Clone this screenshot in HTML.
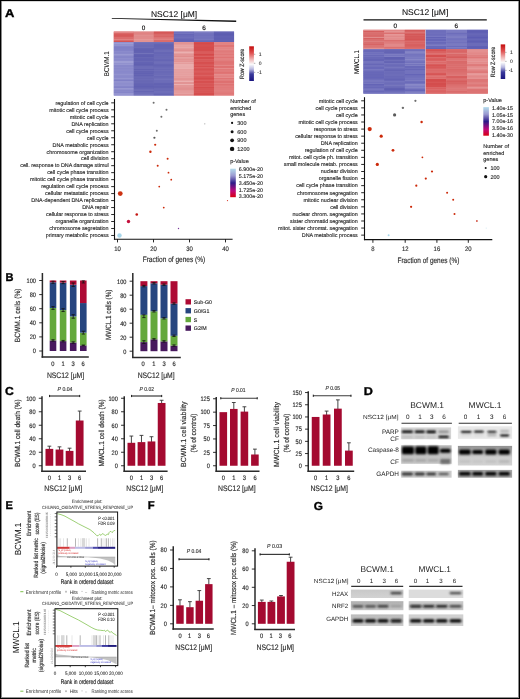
<!DOCTYPE html><html><head><meta charset="utf-8"><style>html,body{margin:0;padding:0;background:#fff;}svg{display:block;filter:blur(0.3px);}text{font-family:"Liberation Sans", sans-serif;text-rendering:geometricPrecision;}</style></head><body>
<svg width="520" height="699" viewBox="0 0 520 699">
<defs><linearGradient id="zs" x1="0" y1="0" x2="0" y2="1"><stop offset="0" stop-color="#c40c0c"/><stop offset="0.2" stop-color="#e05454"/><stop offset="0.38" stop-color="#f0b8b8"/><stop offset="0.52" stop-color="#fbfbfb"/><stop offset="0.66" stop-color="#b8b8e0"/><stop offset="0.8" stop-color="#3a3a9c"/><stop offset="1" stop-color="#1a1580"/></linearGradient><linearGradient id="pv" x1="0" y1="0" x2="0" y2="1"><stop offset="0" stop-color="#b4dcec"/><stop offset="0.25" stop-color="#9a98d0"/><stop offset="0.5" stop-color="#2c1a88"/><stop offset="0.78" stop-color="#c0087a"/><stop offset="1" stop-color="#d80010"/></linearGradient><linearGradient id="gs" x1="0" y1="0" x2="1" y2="0"><stop offset="0" stop-color="#d23a3a"/><stop offset="0.2" stop-color="#d86a6a"/><stop offset="0.3" stop-color="#e4b8cc"/><stop offset="0.55" stop-color="#b8b8e0"/><stop offset="0.72" stop-color="#5a5ab4"/><stop offset="1" stop-color="#1e1e7a"/></linearGradient><filter id="bl" x="-20%" y="-150%" width="140%" height="400%"><feGaussianBlur stdDeviation="0.8"/></filter><filter id="bl2" x="-20%" y="-100%" width="140%" height="300%"><feGaussianBlur stdDeviation="1.1"/></filter></defs>
<rect x="0" y="0" width="520" height="699" fill="#fff"/>
<text x="4.95" y="16.70" font-size="11.4" font-weight="bold" fill="#000" stroke="#000" stroke-width="0.35" textLength="9.40" lengthAdjust="spacingAndGlyphs">A</text>
<rect x="113.80" y="31.60" width="20.08" height="10.60" fill="#d24c4c" />
<rect x="113.80" y="31.60" width="20.08" height="1.50" fill="#e38686" />
<rect x="113.80" y="33.10" width="20.08" height="1.50" fill="#db6a6a" />
<rect x="113.80" y="34.60" width="20.08" height="2.00" fill="#d65959" />
<rect x="113.80" y="36.60" width="20.08" height="2.00" fill="#db6c6c" />
<rect x="113.80" y="38.60" width="20.08" height="2.00" fill="#e18181" />
<rect x="113.80" y="40.60" width="20.08" height="0.80" fill="#db6a6a" />
<rect x="113.80" y="41.40" width="20.08" height="0.80" fill="#d45252" />
<rect x="113.80" y="42.20" width="20.08" height="53.30" fill="#8080c6" />
<rect x="113.80" y="42.20" width="20.08" height="0.80" fill="#9191cf" />
<rect x="113.80" y="43.00" width="20.08" height="1.50" fill="#9c9cd4" />
<rect x="113.80" y="44.50" width="20.08" height="2.00" fill="#9393cf" />
<rect x="113.80" y="46.50" width="20.08" height="2.00" fill="#8080c6" />
<rect x="113.80" y="48.50" width="20.08" height="2.00" fill="#8282c7" />
<rect x="113.80" y="50.50" width="20.08" height="0.80" fill="#8585c9" />
<rect x="113.80" y="51.30" width="20.08" height="1.00" fill="#9191cf" />
<rect x="113.80" y="52.30" width="20.08" height="1.50" fill="#8989cb" />
<rect x="113.80" y="53.80" width="20.08" height="2.00" fill="#9898d2" />
<rect x="113.80" y="55.80" width="20.08" height="2.00" fill="#8787c9" />
<rect x="113.80" y="57.80" width="20.08" height="1.20" fill="#8e8ecd" />
<rect x="113.80" y="59.00" width="20.08" height="0.80" fill="#8d8dcd" />
<rect x="113.80" y="59.80" width="20.08" height="1.20" fill="#8c8ccc" />
<rect x="113.80" y="61.00" width="20.08" height="2.00" fill="#9d9dd4" />
<rect x="113.80" y="63.00" width="20.08" height="0.80" fill="#9494d0" />
<rect x="113.80" y="63.80" width="20.08" height="1.20" fill="#9696d1" />
<rect x="113.80" y="65.00" width="20.08" height="2.00" fill="#8888ca" />
<rect x="113.80" y="67.00" width="20.08" height="0.80" fill="#9090ce" />
<rect x="113.80" y="67.80" width="20.08" height="0.80" fill="#8c8ccc" />
<rect x="113.80" y="68.60" width="20.08" height="1.20" fill="#8b8bcc" />
<rect x="113.80" y="69.80" width="20.08" height="0.80" fill="#9898d2" />
<rect x="113.80" y="70.60" width="20.08" height="0.80" fill="#8686c9" />
<rect x="113.80" y="71.40" width="20.08" height="0.80" fill="#8e8ecd" />
<rect x="113.80" y="72.20" width="20.08" height="1.50" fill="#8c8ccc" />
<rect x="113.80" y="73.70" width="20.08" height="2.00" fill="#9292cf" />
<rect x="113.80" y="75.70" width="20.08" height="1.20" fill="#8a8acb" />
<rect x="113.80" y="76.90" width="20.08" height="1.20" fill="#8a8acb" />
<rect x="113.80" y="78.10" width="20.08" height="1.50" fill="#9696d1" />
<rect x="113.80" y="79.60" width="20.08" height="0.80" fill="#8484c8" />
<rect x="113.80" y="80.40" width="20.08" height="0.80" fill="#8080c6" />
<rect x="113.80" y="81.20" width="20.08" height="1.50" fill="#9797d1" />
<rect x="113.80" y="82.70" width="20.08" height="1.00" fill="#9494d0" />
<rect x="113.80" y="83.70" width="20.08" height="1.00" fill="#8d8dcc" />
<rect x="113.80" y="84.70" width="20.08" height="1.00" fill="#9c9cd4" />
<rect x="113.80" y="85.70" width="20.08" height="1.00" fill="#8c8ccc" />
<rect x="113.80" y="86.70" width="20.08" height="1.50" fill="#8383c8" />
<rect x="113.80" y="88.20" width="20.08" height="1.50" fill="#9d9dd4" />
<rect x="113.80" y="89.70" width="20.08" height="0.80" fill="#8888ca" />
<rect x="113.80" y="90.50" width="20.08" height="2.00" fill="#8989ca" />
<rect x="113.80" y="92.50" width="20.08" height="0.80" fill="#8686c9" />
<rect x="113.80" y="93.30" width="20.08" height="1.50" fill="#9d9dd4" />
<rect x="113.80" y="94.80" width="20.08" height="0.70" fill="#9292cf" />
<rect x="133.83" y="31.60" width="20.08" height="10.60" fill="#df8282" />
<rect x="133.83" y="31.60" width="20.08" height="0.80" fill="#df8383" />
<rect x="133.83" y="32.40" width="20.08" height="1.00" fill="#e18a8a" />
<rect x="133.83" y="33.40" width="20.08" height="1.20" fill="#df8282" />
<rect x="133.83" y="34.60" width="20.08" height="2.00" fill="#e28e8e" />
<rect x="133.83" y="36.60" width="20.08" height="1.20" fill="#e29090" />
<rect x="133.83" y="37.80" width="20.08" height="0.80" fill="#e08585" />
<rect x="133.83" y="38.60" width="20.08" height="2.00" fill="#e59898" />
<rect x="133.83" y="40.60" width="20.08" height="0.80" fill="#e49797" />
<rect x="133.83" y="41.40" width="20.08" height="0.80" fill="#e49898" />
<rect x="133.83" y="42.20" width="20.08" height="53.30" fill="#5e5eb0" />
<rect x="133.83" y="42.20" width="20.08" height="1.00" fill="#7373bb" />
<rect x="133.83" y="43.20" width="20.08" height="1.50" fill="#7171b9" />
<rect x="133.83" y="44.70" width="20.08" height="1.00" fill="#7171ba" />
<rect x="133.83" y="45.70" width="20.08" height="1.00" fill="#6c6cb7" />
<rect x="133.83" y="46.70" width="20.08" height="1.20" fill="#7272ba" />
<rect x="133.83" y="47.90" width="20.08" height="2.00" fill="#6464b3" />
<rect x="133.83" y="49.90" width="20.08" height="1.00" fill="#6262b2" />
<rect x="133.83" y="50.90" width="20.08" height="2.00" fill="#6262b2" />
<rect x="133.83" y="52.90" width="20.08" height="1.50" fill="#7272ba" />
<rect x="133.83" y="54.40" width="20.08" height="2.00" fill="#6060b1" />
<rect x="133.83" y="56.40" width="20.08" height="0.80" fill="#6060b1" />
<rect x="133.83" y="57.20" width="20.08" height="0.80" fill="#6969b6" />
<rect x="133.83" y="58.00" width="20.08" height="1.20" fill="#6363b3" />
<rect x="133.83" y="59.20" width="20.08" height="1.50" fill="#6464b3" />
<rect x="133.83" y="60.70" width="20.08" height="2.00" fill="#6969b5" />
<rect x="133.83" y="62.70" width="20.08" height="2.00" fill="#6262b2" />
<rect x="133.83" y="64.70" width="20.08" height="0.80" fill="#6161b1" />
<rect x="133.83" y="65.50" width="20.08" height="1.50" fill="#6b6bb6" />
<rect x="133.83" y="67.00" width="20.08" height="2.00" fill="#6c6cb7" />
<rect x="133.83" y="69.00" width="20.08" height="1.20" fill="#6363b2" />
<rect x="133.83" y="70.20" width="20.08" height="1.00" fill="#6f6fb8" />
<rect x="133.83" y="71.20" width="20.08" height="0.80" fill="#6464b3" />
<rect x="133.83" y="72.00" width="20.08" height="1.50" fill="#6464b3" />
<rect x="133.83" y="73.50" width="20.08" height="0.80" fill="#6262b2" />
<rect x="133.83" y="74.30" width="20.08" height="1.20" fill="#6a6ab6" />
<rect x="133.83" y="75.50" width="20.08" height="1.00" fill="#6060b1" />
<rect x="133.83" y="76.50" width="20.08" height="1.00" fill="#7272ba" />
<rect x="133.83" y="77.50" width="20.08" height="1.20" fill="#6d6db7" />
<rect x="133.83" y="78.70" width="20.08" height="2.00" fill="#6b6bb7" />
<rect x="133.83" y="80.70" width="20.08" height="1.00" fill="#6b6bb7" />
<rect x="133.83" y="81.70" width="20.08" height="0.80" fill="#6969b5" />
<rect x="133.83" y="82.50" width="20.08" height="1.20" fill="#6e6eb8" />
<rect x="133.83" y="83.70" width="20.08" height="0.80" fill="#5e5eb0" />
<rect x="133.83" y="84.50" width="20.08" height="0.80" fill="#6969b5" />
<rect x="133.83" y="85.30" width="20.08" height="1.20" fill="#6565b4" />
<rect x="133.83" y="86.50" width="20.08" height="0.80" fill="#6060b1" />
<rect x="133.83" y="87.30" width="20.08" height="2.00" fill="#6666b4" />
<rect x="133.83" y="89.30" width="20.08" height="0.80" fill="#7272ba" />
<rect x="133.83" y="90.10" width="20.08" height="1.00" fill="#7070b9" />
<rect x="133.83" y="91.10" width="20.08" height="1.20" fill="#6666b4" />
<rect x="133.83" y="92.30" width="20.08" height="1.50" fill="#7272ba" />
<rect x="133.83" y="93.80" width="20.08" height="1.50" fill="#7373bb" />
<rect x="133.83" y="95.30" width="20.08" height="0.20" fill="#7171ba" />
<rect x="153.87" y="31.60" width="20.08" height="10.60" fill="#d45656" />
<rect x="153.87" y="31.60" width="20.08" height="2.00" fill="#d45757" />
<rect x="153.87" y="33.60" width="20.08" height="1.50" fill="#d96868" />
<rect x="153.87" y="35.10" width="20.08" height="0.80" fill="#dd7373" />
<rect x="153.87" y="35.90" width="20.08" height="0.80" fill="#d55a5a" />
<rect x="153.87" y="36.70" width="20.08" height="0.80" fill="#e28585" />
<rect x="153.87" y="37.50" width="20.08" height="1.50" fill="#de7979" />
<rect x="153.87" y="39.00" width="20.08" height="1.50" fill="#e18282" />
<rect x="153.87" y="40.50" width="20.08" height="1.70" fill="#da6c6c" />
<rect x="153.87" y="42.20" width="20.08" height="53.30" fill="#6262b2" />
<rect x="153.87" y="42.20" width="20.08" height="1.50" fill="#7171ba" />
<rect x="153.87" y="43.70" width="20.08" height="0.80" fill="#6b6bb7" />
<rect x="153.87" y="44.50" width="20.08" height="2.00" fill="#6363b2" />
<rect x="153.87" y="46.50" width="20.08" height="2.00" fill="#6464b3" />
<rect x="153.87" y="48.50" width="20.08" height="0.80" fill="#6666b4" />
<rect x="153.87" y="49.30" width="20.08" height="0.80" fill="#6b6bb7" />
<rect x="153.87" y="50.10" width="20.08" height="2.00" fill="#6e6eb8" />
<rect x="153.87" y="52.10" width="20.08" height="1.50" fill="#6767b5" />
<rect x="153.87" y="53.60" width="20.08" height="0.80" fill="#6969b6" />
<rect x="153.87" y="54.40" width="20.08" height="1.00" fill="#6e6eb9" />
<rect x="153.87" y="55.40" width="20.08" height="1.00" fill="#6b6bb7" />
<rect x="153.87" y="56.40" width="20.08" height="1.20" fill="#6e6eb8" />
<rect x="153.87" y="57.60" width="20.08" height="1.50" fill="#6b6bb7" />
<rect x="153.87" y="59.10" width="20.08" height="1.00" fill="#6868b5" />
<rect x="153.87" y="60.10" width="20.08" height="1.20" fill="#6666b4" />
<rect x="153.87" y="61.30" width="20.08" height="1.50" fill="#7171ba" />
<rect x="153.87" y="62.80" width="20.08" height="1.00" fill="#7272bb" />
<rect x="153.87" y="63.80" width="20.08" height="1.50" fill="#6666b4" />
<rect x="153.87" y="65.30" width="20.08" height="1.20" fill="#6666b4" />
<rect x="153.87" y="66.50" width="20.08" height="1.00" fill="#6b6bb7" />
<rect x="153.87" y="67.50" width="20.08" height="0.80" fill="#6f6fb9" />
<rect x="153.87" y="68.30" width="20.08" height="1.20" fill="#7171ba" />
<rect x="153.87" y="69.50" width="20.08" height="0.80" fill="#6a6ab6" />
<rect x="153.87" y="70.30" width="20.08" height="1.20" fill="#7373bb" />
<rect x="153.87" y="71.50" width="20.08" height="1.50" fill="#6969b6" />
<rect x="153.87" y="73.00" width="20.08" height="2.00" fill="#6b6bb7" />
<rect x="153.87" y="75.00" width="20.08" height="1.20" fill="#6f6fb9" />
<rect x="153.87" y="76.20" width="20.08" height="2.00" fill="#6a6ab6" />
<rect x="153.87" y="78.20" width="20.08" height="0.80" fill="#7171ba" />
<rect x="153.87" y="79.00" width="20.08" height="1.20" fill="#7272bb" />
<rect x="153.87" y="80.20" width="20.08" height="0.80" fill="#6e6eb9" />
<rect x="153.87" y="81.00" width="20.08" height="1.20" fill="#6c6cb8" />
<rect x="153.87" y="82.20" width="20.08" height="1.20" fill="#6e6eb8" />
<rect x="153.87" y="83.40" width="20.08" height="2.00" fill="#6262b2" />
<rect x="153.87" y="85.40" width="20.08" height="1.00" fill="#6969b6" />
<rect x="153.87" y="86.40" width="20.08" height="1.00" fill="#6262b2" />
<rect x="153.87" y="87.40" width="20.08" height="1.20" fill="#6666b4" />
<rect x="153.87" y="88.60" width="20.08" height="1.00" fill="#7171ba" />
<rect x="153.87" y="89.60" width="20.08" height="0.80" fill="#6a6ab6" />
<rect x="153.87" y="90.40" width="20.08" height="2.00" fill="#6e6eb8" />
<rect x="153.87" y="92.40" width="20.08" height="1.20" fill="#7373bb" />
<rect x="153.87" y="93.60" width="20.08" height="1.00" fill="#6666b4" />
<rect x="153.87" y="94.60" width="20.08" height="0.90" fill="#6767b5" />
<rect x="173.90" y="31.60" width="20.08" height="10.60" fill="#6060b4" />
<rect x="173.90" y="31.60" width="20.08" height="0.80" fill="#7575bf" />
<rect x="173.90" y="32.40" width="20.08" height="2.00" fill="#7474be" />
<rect x="173.90" y="34.40" width="20.08" height="1.00" fill="#6666b7" />
<rect x="173.90" y="35.40" width="20.08" height="1.20" fill="#6f6fbc" />
<rect x="173.90" y="36.60" width="20.08" height="2.00" fill="#6e6ebb" />
<rect x="173.90" y="38.60" width="20.08" height="1.00" fill="#6b6bba" />
<rect x="173.90" y="39.60" width="20.08" height="1.00" fill="#6262b5" />
<rect x="173.90" y="40.60" width="20.08" height="1.50" fill="#6464b6" />
<rect x="173.90" y="42.20" width="20.08" height="53.30" fill="#e08c8c" />
<rect x="173.90" y="42.20" width="20.08" height="1.50" fill="#e29393" />
<rect x="173.90" y="43.70" width="20.08" height="0.80" fill="#e49a9a" />
<rect x="173.90" y="44.50" width="20.08" height="2.00" fill="#e7a4a4" />
<rect x="173.90" y="46.50" width="20.08" height="2.00" fill="#e9a9a9" />
<rect x="173.90" y="48.50" width="20.08" height="1.20" fill="#e59d9d" />
<rect x="173.90" y="49.70" width="20.08" height="1.00" fill="#e19090" />
<rect x="173.90" y="50.70" width="20.08" height="0.80" fill="#e29494" />
<rect x="173.90" y="51.50" width="20.08" height="1.50" fill="#ebb0b0" />
<rect x="173.90" y="53.00" width="20.08" height="1.20" fill="#e6a0a0" />
<rect x="173.90" y="54.20" width="20.08" height="1.20" fill="#e39696" />
<rect x="173.90" y="55.40" width="20.08" height="0.80" fill="#e49999" />
<rect x="173.90" y="56.20" width="20.08" height="0.80" fill="#e08d8d" />
<rect x="173.90" y="57.00" width="20.08" height="1.20" fill="#e6a0a0" />
<rect x="173.90" y="58.20" width="20.08" height="1.20" fill="#e59e9e" />
<rect x="173.90" y="59.40" width="20.08" height="0.80" fill="#e29494" />
<rect x="173.90" y="60.20" width="20.08" height="0.80" fill="#e59c9c" />
<rect x="173.90" y="61.00" width="20.08" height="0.80" fill="#e29292" />
<rect x="173.90" y="61.80" width="20.08" height="1.20" fill="#e8a5a5" />
<rect x="173.90" y="63.00" width="20.08" height="1.00" fill="#e59d9d" />
<rect x="173.90" y="64.00" width="20.08" height="2.00" fill="#eaadad" />
<rect x="173.90" y="66.00" width="20.08" height="2.00" fill="#e9abab" />
<rect x="173.90" y="68.00" width="20.08" height="1.50" fill="#ebaeae" />
<rect x="173.90" y="69.50" width="20.08" height="1.50" fill="#e6a1a1" />
<rect x="173.90" y="71.00" width="20.08" height="0.80" fill="#e8a8a8" />
<rect x="173.90" y="71.80" width="20.08" height="1.50" fill="#e69f9f" />
<rect x="173.90" y="73.30" width="20.08" height="1.20" fill="#e9aaaa" />
<rect x="173.90" y="74.50" width="20.08" height="2.00" fill="#e7a3a3" />
<rect x="173.90" y="76.50" width="20.08" height="2.00" fill="#e69f9f" />
<rect x="173.90" y="78.50" width="20.08" height="2.00" fill="#e39595" />
<rect x="173.90" y="80.50" width="20.08" height="1.50" fill="#ebafaf" />
<rect x="173.90" y="82.00" width="20.08" height="2.00" fill="#e29494" />
<rect x="173.90" y="84.00" width="20.08" height="1.00" fill="#ebafaf" />
<rect x="173.90" y="85.00" width="20.08" height="2.00" fill="#e39696" />
<rect x="173.90" y="87.00" width="20.08" height="1.50" fill="#e29393" />
<rect x="173.90" y="88.50" width="20.08" height="2.00" fill="#e19090" />
<rect x="173.90" y="90.50" width="20.08" height="0.80" fill="#e7a2a2" />
<rect x="173.90" y="91.30" width="20.08" height="0.80" fill="#e6a0a0" />
<rect x="173.90" y="92.10" width="20.08" height="0.80" fill="#e69f9f" />
<rect x="173.90" y="92.90" width="20.08" height="1.50" fill="#e6a0a0" />
<rect x="173.90" y="94.40" width="20.08" height="1.10" fill="#e19090" />
<rect x="193.93" y="31.60" width="20.08" height="10.60" fill="#6868b8" />
<rect x="193.93" y="31.60" width="20.08" height="0.80" fill="#7d7dc2" />
<rect x="193.93" y="32.40" width="20.08" height="0.80" fill="#8585c5" />
<rect x="193.93" y="33.20" width="20.08" height="1.50" fill="#7575be" />
<rect x="193.93" y="34.70" width="20.08" height="1.50" fill="#7070bc" />
<rect x="193.93" y="36.20" width="20.08" height="1.50" fill="#7777bf" />
<rect x="193.93" y="37.70" width="20.08" height="1.20" fill="#7575be" />
<rect x="193.93" y="38.90" width="20.08" height="1.50" fill="#7878bf" />
<rect x="193.93" y="40.40" width="20.08" height="0.80" fill="#6e6ebb" />
<rect x="193.93" y="41.20" width="20.08" height="1.00" fill="#6969b8" />
<rect x="193.93" y="42.20" width="20.08" height="53.30" fill="#d44a4a" />
<rect x="193.93" y="42.20" width="20.08" height="1.20" fill="#d54d4d" />
<rect x="193.93" y="43.40" width="20.08" height="0.80" fill="#d44b4b" />
<rect x="193.93" y="44.20" width="20.08" height="1.00" fill="#d65050" />
<rect x="193.93" y="45.20" width="20.08" height="1.20" fill="#d75353" />
<rect x="193.93" y="46.40" width="20.08" height="1.20" fill="#d65151" />
<rect x="193.93" y="47.60" width="20.08" height="1.50" fill="#d54d4d" />
<rect x="193.93" y="49.10" width="20.08" height="2.00" fill="#d54d4d" />
<rect x="193.93" y="51.10" width="20.08" height="2.00" fill="#d95b5b" />
<rect x="193.93" y="53.10" width="20.08" height="1.00" fill="#da5d5d" />
<rect x="193.93" y="54.10" width="20.08" height="1.50" fill="#d44b4b" />
<rect x="193.93" y="55.60" width="20.08" height="1.50" fill="#db6060" />
<rect x="193.93" y="57.10" width="20.08" height="2.00" fill="#d54e4e" />
<rect x="193.93" y="59.10" width="20.08" height="1.00" fill="#db6161" />
<rect x="193.93" y="60.10" width="20.08" height="2.00" fill="#d95b5b" />
<rect x="193.93" y="62.10" width="20.08" height="2.00" fill="#d65050" />
<rect x="193.93" y="64.10" width="20.08" height="2.00" fill="#d95a5a" />
<rect x="193.93" y="66.10" width="20.08" height="1.00" fill="#d65050" />
<rect x="193.93" y="67.10" width="20.08" height="1.20" fill="#dc6262" />
<rect x="193.93" y="68.30" width="20.08" height="1.20" fill="#d95a5a" />
<rect x="193.93" y="69.50" width="20.08" height="1.00" fill="#d65050" />
<rect x="193.93" y="70.50" width="20.08" height="1.00" fill="#db6262" />
<rect x="193.93" y="71.50" width="20.08" height="1.00" fill="#db6262" />
<rect x="193.93" y="72.50" width="20.08" height="1.00" fill="#da5d5d" />
<rect x="193.93" y="73.50" width="20.08" height="1.20" fill="#d75454" />
<rect x="193.93" y="74.70" width="20.08" height="1.50" fill="#db6060" />
<rect x="193.93" y="76.20" width="20.08" height="1.50" fill="#d95858" />
<rect x="193.93" y="77.70" width="20.08" height="1.00" fill="#d64f4f" />
<rect x="193.93" y="78.70" width="20.08" height="0.80" fill="#d54d4d" />
<rect x="193.93" y="79.50" width="20.08" height="2.00" fill="#da5c5c" />
<rect x="193.93" y="81.50" width="20.08" height="1.20" fill="#d54d4d" />
<rect x="193.93" y="82.70" width="20.08" height="2.00" fill="#d95b5b" />
<rect x="193.93" y="84.70" width="20.08" height="1.20" fill="#d85757" />
<rect x="193.93" y="85.90" width="20.08" height="1.00" fill="#db5f5f" />
<rect x="193.93" y="86.90" width="20.08" height="1.50" fill="#d54d4d" />
<rect x="193.93" y="88.40" width="20.08" height="0.80" fill="#da5e5e" />
<rect x="193.93" y="89.20" width="20.08" height="2.00" fill="#d85858" />
<rect x="193.93" y="91.20" width="20.08" height="2.00" fill="#d85757" />
<rect x="193.93" y="93.20" width="20.08" height="1.00" fill="#d64f4f" />
<rect x="193.93" y="94.20" width="20.08" height="1.00" fill="#d54f4f" />
<rect x="193.93" y="95.20" width="20.08" height="0.30" fill="#dc6464" />
<rect x="213.97" y="31.60" width="20.08" height="10.60" fill="#5c5cb0" />
<rect x="213.97" y="31.60" width="20.08" height="0.80" fill="#6363b4" />
<rect x="213.97" y="32.40" width="20.08" height="1.00" fill="#6767b7" />
<rect x="213.97" y="33.40" width="20.08" height="1.50" fill="#5d5db1" />
<rect x="213.97" y="34.90" width="20.08" height="0.80" fill="#6060b2" />
<rect x="213.97" y="35.70" width="20.08" height="1.50" fill="#6161b3" />
<rect x="213.97" y="37.20" width="20.08" height="1.20" fill="#6161b3" />
<rect x="213.97" y="38.40" width="20.08" height="2.00" fill="#6060b3" />
<rect x="213.97" y="40.40" width="20.08" height="0.80" fill="#6666b6" />
<rect x="213.97" y="41.20" width="20.08" height="1.00" fill="#6161b3" />
<rect x="213.97" y="42.20" width="20.08" height="53.30" fill="#de7070" />
<rect x="213.97" y="42.20" width="20.08" height="1.20" fill="#e38585" />
<rect x="213.97" y="43.40" width="20.08" height="1.50" fill="#e48a8a" />
<rect x="213.97" y="44.90" width="20.08" height="2.00" fill="#df7575" />
<rect x="213.97" y="46.90" width="20.08" height="2.00" fill="#e48686" />
<rect x="213.97" y="48.90" width="20.08" height="1.20" fill="#e48989" />
<rect x="213.97" y="50.10" width="20.08" height="1.50" fill="#e28080" />
<rect x="213.97" y="51.60" width="20.08" height="1.00" fill="#e27e7e" />
<rect x="213.97" y="52.60" width="20.08" height="1.20" fill="#e48787" />
<rect x="213.97" y="53.80" width="20.08" height="1.20" fill="#e07878" />
<rect x="213.97" y="55.00" width="20.08" height="0.80" fill="#e38585" />
<rect x="213.97" y="55.80" width="20.08" height="1.00" fill="#e48787" />
<rect x="213.97" y="56.80" width="20.08" height="1.50" fill="#df7474" />
<rect x="213.97" y="58.30" width="20.08" height="1.20" fill="#e48989" />
<rect x="213.97" y="59.50" width="20.08" height="1.20" fill="#e38585" />
<rect x="213.97" y="60.70" width="20.08" height="1.00" fill="#e17b7b" />
<rect x="213.97" y="61.70" width="20.08" height="1.00" fill="#de7272" />
<rect x="213.97" y="62.70" width="20.08" height="1.20" fill="#e07878" />
<rect x="213.97" y="63.90" width="20.08" height="0.80" fill="#de7070" />
<rect x="213.97" y="64.70" width="20.08" height="1.20" fill="#e58c8c" />
<rect x="213.97" y="65.90" width="20.08" height="2.00" fill="#de7171" />
<rect x="213.97" y="67.90" width="20.08" height="1.20" fill="#e58a8a" />
<rect x="213.97" y="69.10" width="20.08" height="1.20" fill="#e07979" />
<rect x="213.97" y="70.30" width="20.08" height="1.50" fill="#e28080" />
<rect x="213.97" y="71.80" width="20.08" height="2.00" fill="#df7272" />
<rect x="213.97" y="73.80" width="20.08" height="2.00" fill="#e58c8c" />
<rect x="213.97" y="75.80" width="20.08" height="1.00" fill="#e38484" />
<rect x="213.97" y="76.80" width="20.08" height="1.50" fill="#e58b8b" />
<rect x="213.97" y="78.30" width="20.08" height="0.80" fill="#df7373" />
<rect x="213.97" y="79.10" width="20.08" height="0.80" fill="#e38585" />
<rect x="213.97" y="79.90" width="20.08" height="1.20" fill="#e17c7c" />
<rect x="213.97" y="81.10" width="20.08" height="2.00" fill="#de7171" />
<rect x="213.97" y="83.10" width="20.08" height="1.00" fill="#e38282" />
<rect x="213.97" y="84.10" width="20.08" height="0.80" fill="#df7373" />
<rect x="213.97" y="84.90" width="20.08" height="1.20" fill="#e07878" />
<rect x="213.97" y="86.10" width="20.08" height="1.20" fill="#e27f7f" />
<rect x="213.97" y="87.30" width="20.08" height="2.00" fill="#e17c7c" />
<rect x="213.97" y="89.30" width="20.08" height="2.00" fill="#e28080" />
<rect x="213.97" y="91.30" width="20.08" height="0.80" fill="#e28282" />
<rect x="213.97" y="92.10" width="20.08" height="0.80" fill="#e27f7f" />
<rect x="213.97" y="92.90" width="20.08" height="0.80" fill="#e17b7b" />
<rect x="213.97" y="93.70" width="20.08" height="1.00" fill="#e17b7b" />
<rect x="213.97" y="94.70" width="20.08" height="0.80" fill="#e48888" />
<rect x="363.40" y="29.80" width="20.78" height="19.50" fill="#d45a5a" />
<rect x="363.40" y="29.80" width="20.78" height="1.20" fill="#e18c8c" />
<rect x="363.40" y="31.00" width="20.78" height="0.80" fill="#d45b5b" />
<rect x="363.40" y="31.80" width="20.78" height="1.20" fill="#da7272" />
<rect x="363.40" y="33.00" width="20.78" height="2.00" fill="#d96e6e" />
<rect x="363.40" y="35.00" width="20.78" height="1.00" fill="#d86969" />
<rect x="363.40" y="36.00" width="20.78" height="0.80" fill="#d76666" />
<rect x="363.40" y="36.80" width="20.78" height="1.50" fill="#e18c8c" />
<rect x="363.40" y="38.30" width="20.78" height="0.80" fill="#d55f5f" />
<rect x="363.40" y="39.10" width="20.78" height="1.50" fill="#da7272" />
<rect x="363.40" y="40.60" width="20.78" height="2.00" fill="#dd7d7d" />
<rect x="363.40" y="42.60" width="20.78" height="1.50" fill="#d96e6e" />
<rect x="363.40" y="44.10" width="20.78" height="0.80" fill="#d76666" />
<rect x="363.40" y="44.90" width="20.78" height="0.80" fill="#dc7b7b" />
<rect x="363.40" y="45.70" width="20.78" height="1.00" fill="#dd7d7d" />
<rect x="363.40" y="46.70" width="20.78" height="1.20" fill="#dc7a7a" />
<rect x="363.40" y="47.90" width="20.78" height="1.20" fill="#e29090" />
<rect x="363.40" y="49.10" width="20.78" height="0.20" fill="#de7f7f" />
<rect x="363.40" y="49.30" width="20.78" height="44.30" fill="#6464b6" />
<rect x="363.40" y="49.30" width="20.78" height="1.20" fill="#7272bd" />
<rect x="363.40" y="50.50" width="20.78" height="1.50" fill="#6868b8" />
<rect x="363.40" y="52.00" width="20.78" height="1.50" fill="#7373bd" />
<rect x="363.40" y="53.50" width="20.78" height="1.50" fill="#7575bf" />
<rect x="363.40" y="55.00" width="20.78" height="1.00" fill="#6969b8" />
<rect x="363.40" y="56.00" width="20.78" height="1.00" fill="#7171bd" />
<rect x="363.40" y="57.00" width="20.78" height="2.00" fill="#6969b8" />
<rect x="363.40" y="59.00" width="20.78" height="0.80" fill="#6666b7" />
<rect x="363.40" y="59.80" width="20.78" height="1.50" fill="#6565b6" />
<rect x="363.40" y="61.30" width="20.78" height="1.20" fill="#7c7cc2" />
<rect x="363.40" y="62.50" width="20.78" height="1.20" fill="#7979c0" />
<rect x="363.40" y="63.70" width="20.78" height="1.20" fill="#6767b7" />
<rect x="363.40" y="64.90" width="20.78" height="1.20" fill="#7272bd" />
<rect x="363.40" y="66.10" width="20.78" height="1.50" fill="#7272bd" />
<rect x="363.40" y="67.60" width="20.78" height="1.20" fill="#6868b8" />
<rect x="363.40" y="68.80" width="20.78" height="2.00" fill="#7878c0" />
<rect x="363.40" y="70.80" width="20.78" height="1.50" fill="#6a6ab9" />
<rect x="363.40" y="72.30" width="20.78" height="2.00" fill="#6868b8" />
<rect x="363.40" y="74.30" width="20.78" height="2.00" fill="#6767b7" />
<rect x="363.40" y="76.30" width="20.78" height="1.50" fill="#6868b8" />
<rect x="363.40" y="77.80" width="20.78" height="0.80" fill="#6565b7" />
<rect x="363.40" y="78.60" width="20.78" height="1.50" fill="#6e6ebb" />
<rect x="363.40" y="80.10" width="20.78" height="1.00" fill="#7878c0" />
<rect x="363.40" y="81.10" width="20.78" height="0.80" fill="#7d7dc2" />
<rect x="363.40" y="81.90" width="20.78" height="0.80" fill="#7272bd" />
<rect x="363.40" y="82.70" width="20.78" height="1.50" fill="#7777bf" />
<rect x="363.40" y="84.20" width="20.78" height="1.20" fill="#6464b6" />
<rect x="363.40" y="85.40" width="20.78" height="1.50" fill="#7070bc" />
<rect x="363.40" y="86.90" width="20.78" height="0.80" fill="#6666b7" />
<rect x="363.40" y="87.70" width="20.78" height="1.50" fill="#7272bd" />
<rect x="363.40" y="89.20" width="20.78" height="1.50" fill="#7c7cc2" />
<rect x="363.40" y="90.70" width="20.78" height="1.00" fill="#6666b7" />
<rect x="363.40" y="91.70" width="20.78" height="1.90" fill="#7171bd" />
<rect x="384.13" y="29.80" width="20.78" height="19.50" fill="#da6c6c" />
<rect x="384.13" y="29.80" width="20.78" height="1.00" fill="#e38d8d" />
<rect x="384.13" y="30.80" width="20.78" height="2.00" fill="#e49393" />
<rect x="384.13" y="32.80" width="20.78" height="1.20" fill="#db7171" />
<rect x="384.13" y="34.00" width="20.78" height="1.00" fill="#e69797" />
<rect x="384.13" y="35.00" width="20.78" height="1.50" fill="#e49191" />
<rect x="384.13" y="36.50" width="20.78" height="1.50" fill="#e49393" />
<rect x="384.13" y="38.00" width="20.78" height="2.00" fill="#e38d8d" />
<rect x="384.13" y="40.00" width="20.78" height="1.50" fill="#db6f6f" />
<rect x="384.13" y="41.50" width="20.78" height="1.00" fill="#e18686" />
<rect x="384.13" y="42.50" width="20.78" height="1.50" fill="#df8080" />
<rect x="384.13" y="44.00" width="20.78" height="2.00" fill="#e28989" />
<rect x="384.13" y="46.00" width="20.78" height="0.80" fill="#e59494" />
<rect x="384.13" y="46.80" width="20.78" height="0.80" fill="#da6d6d" />
<rect x="384.13" y="47.60" width="20.78" height="1.00" fill="#de7c7c" />
<rect x="384.13" y="48.60" width="20.78" height="0.70" fill="#e38f8f" />
<rect x="384.13" y="49.30" width="20.78" height="44.30" fill="#6060b2" />
<rect x="384.13" y="49.30" width="20.78" height="1.50" fill="#6868b6" />
<rect x="384.13" y="50.80" width="20.78" height="0.80" fill="#6a6ab8" />
<rect x="384.13" y="51.60" width="20.78" height="2.00" fill="#6464b4" />
<rect x="384.13" y="53.60" width="20.78" height="2.00" fill="#7d7dc2" />
<rect x="384.13" y="55.60" width="20.78" height="1.50" fill="#7e7ec3" />
<rect x="384.13" y="57.10" width="20.78" height="1.20" fill="#6060b2" />
<rect x="384.13" y="58.30" width="20.78" height="1.50" fill="#6161b2" />
<rect x="384.13" y="59.80" width="20.78" height="1.00" fill="#7777bf" />
<rect x="384.13" y="60.80" width="20.78" height="1.50" fill="#6666b5" />
<rect x="384.13" y="62.30" width="20.78" height="0.80" fill="#6565b5" />
<rect x="384.13" y="63.10" width="20.78" height="1.50" fill="#7777bf" />
<rect x="384.13" y="64.60" width="20.78" height="0.80" fill="#6d6db9" />
<rect x="384.13" y="65.40" width="20.78" height="1.20" fill="#6f6fba" />
<rect x="384.13" y="66.60" width="20.78" height="2.00" fill="#7676be" />
<rect x="384.13" y="68.60" width="20.78" height="1.00" fill="#7070bb" />
<rect x="384.13" y="69.60" width="20.78" height="1.20" fill="#6868b6" />
<rect x="384.13" y="70.80" width="20.78" height="0.80" fill="#6767b6" />
<rect x="384.13" y="71.60" width="20.78" height="0.80" fill="#7b7bc1" />
<rect x="384.13" y="72.40" width="20.78" height="1.50" fill="#6c6cb8" />
<rect x="384.13" y="73.90" width="20.78" height="0.80" fill="#7575bd" />
<rect x="384.13" y="74.70" width="20.78" height="2.00" fill="#6d6db9" />
<rect x="384.13" y="76.70" width="20.78" height="1.20" fill="#6d6db9" />
<rect x="384.13" y="77.90" width="20.78" height="1.20" fill="#6868b7" />
<rect x="384.13" y="79.10" width="20.78" height="1.20" fill="#6565b5" />
<rect x="384.13" y="80.30" width="20.78" height="0.80" fill="#6d6db9" />
<rect x="384.13" y="81.10" width="20.78" height="1.50" fill="#7777bf" />
<rect x="384.13" y="82.60" width="20.78" height="1.20" fill="#7171bb" />
<rect x="384.13" y="83.80" width="20.78" height="0.80" fill="#6c6cb8" />
<rect x="384.13" y="84.60" width="20.78" height="1.20" fill="#7e7ec3" />
<rect x="384.13" y="85.80" width="20.78" height="1.00" fill="#6f6fba" />
<rect x="384.13" y="86.80" width="20.78" height="0.80" fill="#7373bc" />
<rect x="384.13" y="87.60" width="20.78" height="0.80" fill="#6969b7" />
<rect x="384.13" y="88.40" width="20.78" height="1.50" fill="#6060b2" />
<rect x="384.13" y="89.90" width="20.78" height="0.80" fill="#6868b6" />
<rect x="384.13" y="90.70" width="20.78" height="0.80" fill="#6868b6" />
<rect x="384.13" y="91.50" width="20.78" height="2.00" fill="#7474bd" />
<rect x="384.13" y="93.50" width="20.78" height="0.10" fill="#6d6db9" />
<rect x="404.87" y="29.80" width="20.78" height="19.50" fill="#d24e4e" />
<rect x="404.87" y="29.80" width="20.78" height="0.80" fill="#d55a5a" />
<rect x="404.87" y="30.60" width="20.78" height="1.20" fill="#d86666" />
<rect x="404.87" y="31.80" width="20.78" height="2.00" fill="#db7171" />
<rect x="404.87" y="33.80" width="20.78" height="0.80" fill="#d45656" />
<rect x="404.87" y="34.60" width="20.78" height="2.00" fill="#d65f5f" />
<rect x="404.87" y="36.60" width="20.78" height="1.20" fill="#d55a5a" />
<rect x="404.87" y="37.80" width="20.78" height="0.80" fill="#d96868" />
<rect x="404.87" y="38.60" width="20.78" height="2.00" fill="#d45555" />
<rect x="404.87" y="40.60" width="20.78" height="0.80" fill="#dc7474" />
<rect x="404.87" y="41.40" width="20.78" height="1.00" fill="#dd7777" />
<rect x="404.87" y="42.40" width="20.78" height="1.00" fill="#d96868" />
<rect x="404.87" y="43.40" width="20.78" height="1.00" fill="#dc7575" />
<rect x="404.87" y="44.40" width="20.78" height="1.20" fill="#d76262" />
<rect x="404.87" y="45.60" width="20.78" height="1.20" fill="#d86666" />
<rect x="404.87" y="46.80" width="20.78" height="0.80" fill="#db7171" />
<rect x="404.87" y="47.60" width="20.78" height="1.70" fill="#db6e6e" />
<rect x="404.87" y="49.30" width="20.78" height="44.30" fill="#6464b6" />
<rect x="404.87" y="49.30" width="20.78" height="0.80" fill="#7070bc" />
<rect x="404.87" y="50.10" width="20.78" height="1.00" fill="#7171bc" />
<rect x="404.87" y="51.10" width="20.78" height="1.00" fill="#8484c6" />
<rect x="404.87" y="52.10" width="20.78" height="1.00" fill="#8989c8" />
<rect x="404.87" y="53.10" width="20.78" height="1.20" fill="#8181c4" />
<rect x="404.87" y="54.30" width="20.78" height="1.00" fill="#7878c0" />
<rect x="404.87" y="55.30" width="20.78" height="1.50" fill="#7d7dc2" />
<rect x="404.87" y="56.80" width="20.78" height="2.00" fill="#7d7dc2" />
<rect x="404.87" y="58.80" width="20.78" height="2.00" fill="#8787c7" />
<rect x="404.87" y="60.80" width="20.78" height="1.20" fill="#7575be" />
<rect x="404.87" y="62.00" width="20.78" height="1.00" fill="#7171bc" />
<rect x="404.87" y="63.00" width="20.78" height="1.20" fill="#8383c5" />
<rect x="404.87" y="64.20" width="20.78" height="0.80" fill="#7777bf" />
<rect x="404.87" y="65.00" width="20.78" height="1.20" fill="#7f7fc3" />
<rect x="404.87" y="66.20" width="20.78" height="2.00" fill="#6a6ab9" />
<rect x="404.87" y="68.20" width="20.78" height="1.20" fill="#7373bd" />
<rect x="404.87" y="69.40" width="20.78" height="0.80" fill="#6666b7" />
<rect x="404.87" y="70.20" width="20.78" height="1.50" fill="#7676bf" />
<rect x="404.87" y="71.70" width="20.78" height="1.00" fill="#7a7ac1" />
<rect x="404.87" y="72.70" width="20.78" height="1.50" fill="#7272bd" />
<rect x="404.87" y="74.20" width="20.78" height="1.20" fill="#6565b7" />
<rect x="404.87" y="75.40" width="20.78" height="1.20" fill="#7575be" />
<rect x="404.87" y="76.60" width="20.78" height="1.00" fill="#7373bd" />
<rect x="404.87" y="77.60" width="20.78" height="1.20" fill="#7a7ac0" />
<rect x="404.87" y="78.80" width="20.78" height="0.80" fill="#7878c0" />
<rect x="404.87" y="79.60" width="20.78" height="2.00" fill="#7c7cc1" />
<rect x="404.87" y="81.60" width="20.78" height="2.00" fill="#6b6bb9" />
<rect x="404.87" y="83.60" width="20.78" height="1.50" fill="#8989c8" />
<rect x="404.87" y="85.10" width="20.78" height="1.50" fill="#8989c8" />
<rect x="404.87" y="86.60" width="20.78" height="1.50" fill="#8484c5" />
<rect x="404.87" y="88.10" width="20.78" height="1.50" fill="#7c7cc2" />
<rect x="404.87" y="89.60" width="20.78" height="1.20" fill="#6666b7" />
<rect x="404.87" y="90.80" width="20.78" height="0.80" fill="#7474be" />
<rect x="404.87" y="91.60" width="20.78" height="1.20" fill="#8989c8" />
<rect x="404.87" y="92.80" width="20.78" height="0.80" fill="#7f7fc3" />
<rect x="425.60" y="29.80" width="20.78" height="19.50" fill="#6060b4" />
<rect x="425.60" y="29.80" width="20.78" height="1.00" fill="#7272be" />
<rect x="425.60" y="30.80" width="20.78" height="0.80" fill="#7676c1" />
<rect x="425.60" y="31.60" width="20.78" height="2.00" fill="#6e6ebc" />
<rect x="425.60" y="33.60" width="20.78" height="0.80" fill="#7b7bc4" />
<rect x="425.60" y="34.40" width="20.78" height="1.50" fill="#6e6ebc" />
<rect x="425.60" y="35.90" width="20.78" height="1.00" fill="#7d7dc4" />
<rect x="425.60" y="36.90" width="20.78" height="1.20" fill="#6363b6" />
<rect x="425.60" y="38.10" width="20.78" height="0.80" fill="#7676c1" />
<rect x="425.60" y="38.90" width="20.78" height="2.00" fill="#6666b8" />
<rect x="425.60" y="40.90" width="20.78" height="1.00" fill="#7979c2" />
<rect x="425.60" y="41.90" width="20.78" height="1.20" fill="#6868b9" />
<rect x="425.60" y="43.10" width="20.78" height="1.20" fill="#6d6dbb" />
<rect x="425.60" y="44.30" width="20.78" height="2.00" fill="#7c7cc4" />
<rect x="425.60" y="46.30" width="20.78" height="2.00" fill="#6969b9" />
<rect x="425.60" y="48.30" width="20.78" height="0.80" fill="#6666b8" />
<rect x="425.60" y="49.10" width="20.78" height="0.20" fill="#7777c1" />
<rect x="425.60" y="49.30" width="20.78" height="44.30" fill="#d44c4c" />
<rect x="425.60" y="49.30" width="20.78" height="2.00" fill="#d65252" />
<rect x="425.60" y="51.30" width="20.78" height="1.00" fill="#db6868" />
<rect x="425.60" y="52.30" width="20.78" height="0.80" fill="#dc6969" />
<rect x="425.60" y="53.10" width="20.78" height="1.20" fill="#df7575" />
<rect x="425.60" y="54.30" width="20.78" height="0.80" fill="#df7474" />
<rect x="425.60" y="55.10" width="20.78" height="2.00" fill="#d54f4f" />
<rect x="425.60" y="57.10" width="20.78" height="0.80" fill="#df7474" />
<rect x="425.60" y="57.90" width="20.78" height="0.80" fill="#dc6a6a" />
<rect x="425.60" y="58.70" width="20.78" height="0.80" fill="#da6161" />
<rect x="425.60" y="59.50" width="20.78" height="1.20" fill="#da6363" />
<rect x="425.60" y="60.70" width="20.78" height="1.50" fill="#df7676" />
<rect x="425.60" y="62.20" width="20.78" height="0.80" fill="#de7171" />
<rect x="425.60" y="63.00" width="20.78" height="1.00" fill="#de7373" />
<rect x="425.60" y="64.00" width="20.78" height="0.80" fill="#db6868" />
<rect x="425.60" y="64.80" width="20.78" height="1.00" fill="#d65353" />
<rect x="425.60" y="65.80" width="20.78" height="1.00" fill="#d96161" />
<rect x="425.60" y="66.80" width="20.78" height="1.00" fill="#d75757" />
<rect x="425.60" y="67.80" width="20.78" height="0.80" fill="#db6565" />
<rect x="425.60" y="68.60" width="20.78" height="1.50" fill="#dd6c6c" />
<rect x="425.60" y="70.10" width="20.78" height="2.00" fill="#dc6c6c" />
<rect x="425.60" y="72.10" width="20.78" height="1.50" fill="#dd6e6e" />
<rect x="425.60" y="73.60" width="20.78" height="0.80" fill="#d65252" />
<rect x="425.60" y="74.40" width="20.78" height="0.80" fill="#d85b5b" />
<rect x="425.60" y="75.20" width="20.78" height="2.00" fill="#df7474" />
<rect x="425.60" y="77.20" width="20.78" height="2.00" fill="#de7272" />
<rect x="425.60" y="79.20" width="20.78" height="1.50" fill="#d44c4c" />
<rect x="425.60" y="80.70" width="20.78" height="1.50" fill="#d54f4f" />
<rect x="425.60" y="82.20" width="20.78" height="1.20" fill="#d75858" />
<rect x="425.60" y="83.40" width="20.78" height="2.00" fill="#d44d4d" />
<rect x="425.60" y="85.40" width="20.78" height="1.00" fill="#d65555" />
<rect x="425.60" y="86.40" width="20.78" height="0.80" fill="#d65252" />
<rect x="425.60" y="87.20" width="20.78" height="1.00" fill="#dd6e6e" />
<rect x="425.60" y="88.20" width="20.78" height="0.80" fill="#db6666" />
<rect x="425.60" y="89.00" width="20.78" height="1.50" fill="#dc6c6c" />
<rect x="425.60" y="90.50" width="20.78" height="1.00" fill="#dd6e6e" />
<rect x="425.60" y="91.50" width="20.78" height="2.00" fill="#dc6868" />
<rect x="425.60" y="93.50" width="20.78" height="0.10" fill="#db6565" />
<rect x="446.33" y="29.80" width="20.78" height="19.50" fill="#6a6aba" />
<rect x="446.33" y="29.80" width="20.78" height="1.00" fill="#8080c5" />
<rect x="446.33" y="30.80" width="20.78" height="1.20" fill="#7b7bc2" />
<rect x="446.33" y="32.00" width="20.78" height="0.80" fill="#8080c4" />
<rect x="446.33" y="32.80" width="20.78" height="1.00" fill="#6d6dbb" />
<rect x="446.33" y="33.80" width="20.78" height="1.50" fill="#7474bf" />
<rect x="446.33" y="35.30" width="20.78" height="1.00" fill="#7c7cc3" />
<rect x="446.33" y="36.30" width="20.78" height="1.50" fill="#8484c6" />
<rect x="446.33" y="37.80" width="20.78" height="0.80" fill="#7d7dc3" />
<rect x="446.33" y="38.60" width="20.78" height="1.00" fill="#7474bf" />
<rect x="446.33" y="39.60" width="20.78" height="1.50" fill="#7676c0" />
<rect x="446.33" y="41.10" width="20.78" height="1.00" fill="#7979c1" />
<rect x="446.33" y="42.10" width="20.78" height="1.00" fill="#7373be" />
<rect x="446.33" y="43.10" width="20.78" height="2.00" fill="#7a7ac1" />
<rect x="446.33" y="45.10" width="20.78" height="0.80" fill="#7f7fc4" />
<rect x="446.33" y="45.90" width="20.78" height="1.00" fill="#6c6cbb" />
<rect x="446.33" y="46.90" width="20.78" height="1.20" fill="#7b7bc2" />
<rect x="446.33" y="48.10" width="20.78" height="0.80" fill="#7676c0" />
<rect x="446.33" y="48.90" width="20.78" height="0.40" fill="#6e6ebc" />
<rect x="446.33" y="49.30" width="20.78" height="44.30" fill="#d65c5c" />
<rect x="446.33" y="49.30" width="20.78" height="1.20" fill="#d96969" />
<rect x="446.33" y="50.50" width="20.78" height="1.00" fill="#db6d6d" />
<rect x="446.33" y="51.50" width="20.78" height="1.20" fill="#d96767" />
<rect x="446.33" y="52.70" width="20.78" height="1.50" fill="#df7d7d" />
<rect x="446.33" y="54.20" width="20.78" height="0.80" fill="#da6b6b" />
<rect x="446.33" y="55.00" width="20.78" height="1.50" fill="#da6a6a" />
<rect x="446.33" y="56.50" width="20.78" height="0.80" fill="#d86262" />
<rect x="446.33" y="57.30" width="20.78" height="0.80" fill="#d65d5d" />
<rect x="446.33" y="58.10" width="20.78" height="1.20" fill="#dd7575" />
<rect x="446.33" y="59.30" width="20.78" height="0.80" fill="#de7b7b" />
<rect x="446.33" y="60.10" width="20.78" height="1.20" fill="#df7e7e" />
<rect x="446.33" y="61.30" width="20.78" height="1.00" fill="#da6b6b" />
<rect x="446.33" y="62.30" width="20.78" height="1.00" fill="#db6f6f" />
<rect x="446.33" y="63.30" width="20.78" height="2.00" fill="#db7070" />
<rect x="446.33" y="65.30" width="20.78" height="2.00" fill="#dc7373" />
<rect x="446.33" y="67.30" width="20.78" height="2.00" fill="#dc7171" />
<rect x="446.33" y="69.30" width="20.78" height="2.00" fill="#da6b6b" />
<rect x="446.33" y="71.30" width="20.78" height="1.00" fill="#dc7272" />
<rect x="446.33" y="72.30" width="20.78" height="1.50" fill="#dd7676" />
<rect x="446.33" y="73.80" width="20.78" height="1.00" fill="#de7a7a" />
<rect x="446.33" y="74.80" width="20.78" height="1.20" fill="#de7979" />
<rect x="446.33" y="76.00" width="20.78" height="2.00" fill="#d75f5f" />
<rect x="446.33" y="78.00" width="20.78" height="1.50" fill="#db6d6d" />
<rect x="446.33" y="79.50" width="20.78" height="0.80" fill="#de7878" />
<rect x="446.33" y="80.30" width="20.78" height="0.80" fill="#d96666" />
<rect x="446.33" y="81.10" width="20.78" height="0.80" fill="#d65d5d" />
<rect x="446.33" y="81.90" width="20.78" height="2.00" fill="#d86464" />
<rect x="446.33" y="83.90" width="20.78" height="1.20" fill="#da6b6b" />
<rect x="446.33" y="85.10" width="20.78" height="1.00" fill="#dc7272" />
<rect x="446.33" y="86.10" width="20.78" height="2.00" fill="#dd7575" />
<rect x="446.33" y="88.10" width="20.78" height="1.20" fill="#df7e7e" />
<rect x="446.33" y="89.30" width="20.78" height="1.00" fill="#e07f7f" />
<rect x="446.33" y="90.30" width="20.78" height="1.00" fill="#e08080" />
<rect x="446.33" y="91.30" width="20.78" height="1.00" fill="#db6e6e" />
<rect x="446.33" y="92.30" width="20.78" height="1.20" fill="#dd7777" />
<rect x="467.07" y="29.80" width="20.78" height="19.50" fill="#5c5cb2" />
<rect x="467.07" y="29.80" width="20.78" height="1.50" fill="#6262b5" />
<rect x="467.07" y="31.30" width="20.78" height="2.00" fill="#6060b4" />
<rect x="467.07" y="33.30" width="20.78" height="1.50" fill="#6a6ab9" />
<rect x="467.07" y="34.80" width="20.78" height="0.80" fill="#6969b8" />
<rect x="467.07" y="35.60" width="20.78" height="1.20" fill="#6666b7" />
<rect x="467.07" y="36.80" width="20.78" height="0.80" fill="#5d5db3" />
<rect x="467.07" y="37.60" width="20.78" height="1.00" fill="#5e5eb3" />
<rect x="467.07" y="38.60" width="20.78" height="0.80" fill="#6b6bb9" />
<rect x="467.07" y="39.40" width="20.78" height="1.20" fill="#6b6bb9" />
<rect x="467.07" y="40.60" width="20.78" height="1.20" fill="#5f5fb3" />
<rect x="467.07" y="41.80" width="20.78" height="1.20" fill="#6262b5" />
<rect x="467.07" y="43.00" width="20.78" height="2.00" fill="#6b6bb9" />
<rect x="467.07" y="45.00" width="20.78" height="1.50" fill="#6b6bba" />
<rect x="467.07" y="46.50" width="20.78" height="2.00" fill="#5f5fb4" />
<rect x="467.07" y="48.50" width="20.78" height="0.80" fill="#6969b8" />
<rect x="467.07" y="49.30" width="20.78" height="44.30" fill="#dc7272" />
<rect x="467.07" y="49.30" width="20.78" height="2.00" fill="#e49191" />
<rect x="467.07" y="51.30" width="20.78" height="1.20" fill="#e79b9b" />
<rect x="467.07" y="52.50" width="20.78" height="0.80" fill="#e59292" />
<rect x="467.07" y="53.30" width="20.78" height="1.00" fill="#e49090" />
<rect x="467.07" y="54.30" width="20.78" height="0.80" fill="#e59494" />
<rect x="467.07" y="55.10" width="20.78" height="2.00" fill="#e08282" />
<rect x="467.07" y="57.10" width="20.78" height="0.80" fill="#dd7777" />
<rect x="467.07" y="57.90" width="20.78" height="0.80" fill="#e49090" />
<rect x="467.07" y="58.70" width="20.78" height="1.50" fill="#e59292" />
<rect x="467.07" y="60.20" width="20.78" height="2.00" fill="#e69797" />
<rect x="467.07" y="62.20" width="20.78" height="1.00" fill="#e48f8f" />
<rect x="467.07" y="63.20" width="20.78" height="1.20" fill="#e69797" />
<rect x="467.07" y="64.40" width="20.78" height="2.00" fill="#de7a7a" />
<rect x="467.07" y="66.40" width="20.78" height="1.20" fill="#e79b9b" />
<rect x="467.07" y="67.60" width="20.78" height="2.00" fill="#e69797" />
<rect x="467.07" y="69.60" width="20.78" height="0.80" fill="#e59494" />
<rect x="467.07" y="70.40" width="20.78" height="1.20" fill="#e18686" />
<rect x="467.07" y="71.60" width="20.78" height="1.50" fill="#de7979" />
<rect x="467.07" y="73.10" width="20.78" height="2.00" fill="#e79b9b" />
<rect x="467.07" y="75.10" width="20.78" height="1.50" fill="#e59393" />
<rect x="467.07" y="76.60" width="20.78" height="0.80" fill="#e49090" />
<rect x="467.07" y="77.40" width="20.78" height="1.50" fill="#e79b9b" />
<rect x="467.07" y="78.90" width="20.78" height="1.50" fill="#dd7777" />
<rect x="467.07" y="80.40" width="20.78" height="1.20" fill="#de7979" />
<rect x="467.07" y="81.60" width="20.78" height="1.00" fill="#de7b7b" />
<rect x="467.07" y="82.60" width="20.78" height="0.80" fill="#e38d8d" />
<rect x="467.07" y="83.40" width="20.78" height="1.20" fill="#e28787" />
<rect x="467.07" y="84.60" width="20.78" height="1.50" fill="#dd7676" />
<rect x="467.07" y="86.10" width="20.78" height="1.00" fill="#e18383" />
<rect x="467.07" y="87.10" width="20.78" height="1.00" fill="#e69898" />
<rect x="467.07" y="88.10" width="20.78" height="0.80" fill="#e59393" />
<rect x="467.07" y="88.90" width="20.78" height="1.00" fill="#dd7575" />
<rect x="467.07" y="89.90" width="20.78" height="0.80" fill="#dc7272" />
<rect x="467.07" y="90.70" width="20.78" height="1.20" fill="#dc7474" />
<rect x="467.07" y="91.90" width="20.78" height="1.70" fill="#dc7373" />
<rect x="425.20" y="29.80" width="0.80" height="63.80" fill="#f4f0f4" opacity="0.6"/>
<polygon points="111.8,18.1 236.2,20.6 236.2,22.1 111.8,18.8" fill="#111"/>
<text x="151.00" y="16.80" font-size="8.4" textLength="46.2" lengthAdjust="spacingAndGlyphs" stroke="#231f20" stroke-width="0.080" >NSC12 [μM]</text>
<text x="143.50" y="30.10" font-size="6.4" text-anchor="middle" stroke="#231f20" stroke-width="0.150" >0</text>
<text x="204.00" y="30.10" font-size="6.4" text-anchor="middle" stroke="#231f20" stroke-width="0.150" >6</text>
<text transform="translate(109.40,63.80) rotate(-90)" x="0" y="0" font-size="7.0" text-anchor="middle" textLength="24.9" lengthAdjust="spacingAndGlyphs" stroke="#231f20" stroke-width="0.050" >BCWM.1</text>
<line x1="363.50" y1="19.90" x2="486.80" y2="19.90" stroke="#111" stroke-width="1.3" />
<text x="401.90" y="15.30" font-size="8.4" textLength="46.4" lengthAdjust="spacingAndGlyphs" stroke="#231f20" stroke-width="0.080" >NSC12 [μM]</text>
<text x="395.40" y="28.30" font-size="6.4" text-anchor="middle" stroke="#231f20" stroke-width="0.150" >0</text>
<text x="456.20" y="28.30" font-size="6.4" text-anchor="middle" stroke="#231f20" stroke-width="0.150" >6</text>
<text transform="translate(358.80,62.00) rotate(-90)" x="0" y="0" font-size="7.0" text-anchor="middle" textLength="24.0" lengthAdjust="spacingAndGlyphs" stroke="#231f20" stroke-width="0.050" >MWCL.1</text>
<rect x="249.20" y="46.30" width="4.70" height="34.70" fill="url(#zs)" />
<text x="260.20" y="56.08" font-size="5.0" text-anchor="middle" fill="#222" stroke="#222" stroke-width="0.060" >1</text>
<line x1="253.90" y1="54.28" x2="255.30" y2="54.28" stroke="#666" stroke-width="0.5" />
<text x="260.20" y="65.10" font-size="5.0" text-anchor="middle" fill="#222" stroke="#222" stroke-width="0.060" >0</text>
<line x1="253.90" y1="63.30" x2="255.30" y2="63.30" stroke="#666" stroke-width="0.5" />
<text x="259.60" y="74.12" font-size="5.0" text-anchor="middle" fill="#222" stroke="#222" stroke-width="0.060" >-1</text>
<line x1="253.90" y1="72.33" x2="255.30" y2="72.33" stroke="#666" stroke-width="0.5" />
<text transform="translate(244.30,63.90) rotate(-90)" x="0" y="0" font-size="6.2" text-anchor="middle" textLength="30.0" lengthAdjust="spacingAndGlyphs" fill="#222" stroke="#222" stroke-width="0.150" >Row Z-score</text>
<rect x="500.70" y="44.40" width="4.50" height="34.60" fill="url(#zs)" />
<text x="511.50" y="54.16" font-size="5.0" text-anchor="middle" fill="#222" stroke="#222" stroke-width="0.060" >1</text>
<line x1="505.20" y1="52.36" x2="506.60" y2="52.36" stroke="#666" stroke-width="0.5" />
<text x="511.50" y="63.15" font-size="5.0" text-anchor="middle" fill="#222" stroke="#222" stroke-width="0.060" >0</text>
<line x1="505.20" y1="61.35" x2="506.60" y2="61.35" stroke="#666" stroke-width="0.5" />
<text x="510.90" y="72.15" font-size="5.0" text-anchor="middle" fill="#222" stroke="#222" stroke-width="0.060" >-1</text>
<line x1="505.20" y1="70.35" x2="506.60" y2="70.35" stroke="#666" stroke-width="0.5" />
<text transform="translate(495.30,62.00) rotate(-90)" x="0" y="0" font-size="6.2" text-anchor="middle" textLength="30.4" lengthAdjust="spacingAndGlyphs" fill="#222" stroke="#222" stroke-width="0.150" >Row Z-score</text>
<line x1="114.50" y1="99.00" x2="114.50" y2="239.75" stroke="#111" stroke-width="1.1" />
<line x1="113.95" y1="239.20" x2="232.60" y2="239.20" stroke="#111" stroke-width="1.1" />
<line x1="111.20" y1="102.85" x2="114.50" y2="102.85" stroke="#111" stroke-width="0.9" />
<text x="108.60" y="104.65" font-size="5.4" text-anchor="end" fill="#2a2a2a" stroke="#2a2a2a" stroke-width="0.135" >regulation of cell cycle</text>
<line x1="111.20" y1="109.83" x2="114.50" y2="109.83" stroke="#111" stroke-width="0.9" />
<text x="108.60" y="111.63" font-size="5.4" text-anchor="end" fill="#2a2a2a" stroke="#2a2a2a" stroke-width="0.135" >mitotic cell cycle process</text>
<line x1="111.20" y1="116.81" x2="114.50" y2="116.81" stroke="#111" stroke-width="0.9" />
<text x="108.60" y="118.61" font-size="5.4" text-anchor="end" fill="#2a2a2a" stroke="#2a2a2a" stroke-width="0.135" >mitotic cell cycle</text>
<line x1="111.20" y1="123.79" x2="114.50" y2="123.79" stroke="#111" stroke-width="0.9" />
<text x="108.60" y="125.59" font-size="5.4" text-anchor="end" fill="#2a2a2a" stroke="#2a2a2a" stroke-width="0.135" >DNA replication</text>
<line x1="111.20" y1="130.77" x2="114.50" y2="130.77" stroke="#111" stroke-width="0.9" />
<text x="108.60" y="132.57" font-size="5.4" text-anchor="end" fill="#2a2a2a" stroke="#2a2a2a" stroke-width="0.135" >cell cycle process</text>
<line x1="111.20" y1="137.75" x2="114.50" y2="137.75" stroke="#111" stroke-width="0.9" />
<text x="108.60" y="139.55" font-size="5.4" text-anchor="end" fill="#2a2a2a" stroke="#2a2a2a" stroke-width="0.135" >cell cycle</text>
<line x1="111.20" y1="144.73" x2="114.50" y2="144.73" stroke="#111" stroke-width="0.9" />
<text x="108.60" y="146.53" font-size="5.4" text-anchor="end" fill="#2a2a2a" stroke="#2a2a2a" stroke-width="0.135" >DNA metabolic process</text>
<line x1="111.20" y1="151.71" x2="114.50" y2="151.71" stroke="#111" stroke-width="0.9" />
<text x="108.60" y="153.51" font-size="5.4" text-anchor="end" fill="#2a2a2a" stroke="#2a2a2a" stroke-width="0.135" >chromosome organization</text>
<line x1="111.20" y1="158.69" x2="114.50" y2="158.69" stroke="#111" stroke-width="0.9" />
<text x="108.60" y="160.49" font-size="5.4" text-anchor="end" fill="#2a2a2a" stroke="#2a2a2a" stroke-width="0.135" >cell division</text>
<line x1="111.20" y1="165.67" x2="114.50" y2="165.67" stroke="#111" stroke-width="0.9" />
<text x="108.60" y="167.47" font-size="5.4" text-anchor="end" fill="#2a2a2a" stroke="#2a2a2a" stroke-width="0.135" >cell. response to DNA damage stimul</text>
<line x1="111.20" y1="172.65" x2="114.50" y2="172.65" stroke="#111" stroke-width="0.9" />
<text x="108.60" y="174.45" font-size="5.4" text-anchor="end" fill="#2a2a2a" stroke="#2a2a2a" stroke-width="0.135" >cell cycle phase transition</text>
<line x1="111.20" y1="179.63" x2="114.50" y2="179.63" stroke="#111" stroke-width="0.9" />
<text x="108.60" y="181.43" font-size="5.4" text-anchor="end" fill="#2a2a2a" stroke="#2a2a2a" stroke-width="0.135" >mitotic cell cycle phase transition</text>
<line x1="111.20" y1="186.61" x2="114.50" y2="186.61" stroke="#111" stroke-width="0.9" />
<text x="108.60" y="188.41" font-size="5.4" text-anchor="end" fill="#2a2a2a" stroke="#2a2a2a" stroke-width="0.135" >regulation cell cycle process</text>
<line x1="111.20" y1="193.59" x2="114.50" y2="193.59" stroke="#111" stroke-width="0.9" />
<text x="108.60" y="195.39" font-size="5.4" text-anchor="end" fill="#2a2a2a" stroke="#2a2a2a" stroke-width="0.135" >cellular metastatic process</text>
<line x1="111.20" y1="200.57" x2="114.50" y2="200.57" stroke="#111" stroke-width="0.9" />
<text x="108.60" y="202.37" font-size="5.4" text-anchor="end" fill="#2a2a2a" stroke="#2a2a2a" stroke-width="0.135" >DNA-dependent DNA replication</text>
<line x1="111.20" y1="207.55" x2="114.50" y2="207.55" stroke="#111" stroke-width="0.9" />
<text x="108.60" y="209.35" font-size="5.4" text-anchor="end" fill="#2a2a2a" stroke="#2a2a2a" stroke-width="0.135" >DNA repair</text>
<line x1="111.20" y1="214.53" x2="114.50" y2="214.53" stroke="#111" stroke-width="0.9" />
<text x="108.60" y="216.33" font-size="5.4" text-anchor="end" fill="#2a2a2a" stroke="#2a2a2a" stroke-width="0.135" >cellular response to stress</text>
<line x1="111.20" y1="221.51" x2="114.50" y2="221.51" stroke="#111" stroke-width="0.9" />
<text x="108.60" y="223.31" font-size="5.4" text-anchor="end" fill="#2a2a2a" stroke="#2a2a2a" stroke-width="0.135" >organelle organization</text>
<line x1="111.20" y1="228.49" x2="114.50" y2="228.49" stroke="#111" stroke-width="0.9" />
<text x="108.60" y="230.29" font-size="5.4" text-anchor="end" fill="#2a2a2a" stroke="#2a2a2a" stroke-width="0.135" >chromosome segretation</text>
<line x1="111.20" y1="235.47" x2="114.50" y2="235.47" stroke="#111" stroke-width="0.9" />
<text x="108.60" y="237.27" font-size="5.4" text-anchor="end" fill="#2a2a2a" stroke="#2a2a2a" stroke-width="0.135" >primary metabolic process</text>
<circle cx="153.60" cy="102.85" r="1.00" fill="#6e6e6e"/>
<circle cx="166.50" cy="109.83" r="1.00" fill="#6e6e6e"/>
<circle cx="161.40" cy="116.81" r="1.00" fill="#6e6e6e"/>
<circle cx="204.80" cy="123.79" r="0.60" fill="#a0a0a0"/>
<circle cx="156.80" cy="130.77" r="1.00" fill="#6e6e6e"/>
<circle cx="154.40" cy="137.75" r="1.10" fill="#555"/>
<circle cx="155.20" cy="144.73" r="1.10" fill="#cc2a0a"/>
<circle cx="150.40" cy="151.71" r="1.20" fill="#cc2a0a"/>
<circle cx="167.60" cy="158.69" r="1.00" fill="#cc2a0a"/>
<circle cx="157.70" cy="165.67" r="1.00" fill="#cc2a0a"/>
<circle cx="168.50" cy="172.65" r="0.90" fill="#cc2a0a"/>
<circle cx="171.25" cy="179.63" r="0.90" fill="#cc2a0a"/>
<circle cx="159.25" cy="186.61" r="0.90" fill="#cc2a0a"/>
<circle cx="120.25" cy="193.59" r="2.40" fill="#cc3212"/>
<circle cx="227.50" cy="200.57" r="0.60" fill="#d83020"/>
<circle cx="163.75" cy="207.55" r="0.90" fill="#cc2a0a"/>
<circle cx="136.75" cy="214.53" r="1.30" fill="#c41410"/>
<circle cx="128.50" cy="221.51" r="1.70" fill="#c4103c"/>
<circle cx="178.50" cy="228.49" r="0.70" fill="#7a3a9a"/>
<circle cx="119.50" cy="235.47" r="2.20" fill="#a8d6ea"/>
<line x1="117.50" y1="239.20" x2="117.50" y2="242.40" stroke="#111" stroke-width="0.9" />
<text x="117.50" y="250.80" font-size="6.6" text-anchor="middle" textLength="6.61" lengthAdjust="spacingAndGlyphs" fill="#2a2a2a" stroke="#2a2a2a" stroke-width="0.150" >10</text>
<line x1="153.50" y1="239.20" x2="153.50" y2="242.40" stroke="#111" stroke-width="0.9" />
<text x="153.50" y="250.80" font-size="6.6" text-anchor="middle" textLength="6.61" lengthAdjust="spacingAndGlyphs" fill="#2a2a2a" stroke="#2a2a2a" stroke-width="0.150" >20</text>
<line x1="189.50" y1="239.20" x2="189.50" y2="242.40" stroke="#111" stroke-width="0.9" />
<text x="189.50" y="250.80" font-size="6.6" text-anchor="middle" textLength="6.61" lengthAdjust="spacingAndGlyphs" fill="#2a2a2a" stroke="#2a2a2a" stroke-width="0.150" >30</text>
<line x1="225.50" y1="239.20" x2="225.50" y2="242.40" stroke="#111" stroke-width="0.9" />
<text x="225.50" y="250.80" font-size="6.6" text-anchor="middle" textLength="6.61" lengthAdjust="spacingAndGlyphs" fill="#2a2a2a" stroke="#2a2a2a" stroke-width="0.150" >40</text>
<text x="142.70" y="262.20" font-size="7.9" textLength="62.6" lengthAdjust="spacingAndGlyphs" fill="#2a2a2a" stroke="#2a2a2a" stroke-width="0.150" >Fraction of genes (%)</text>
<line x1="364.50" y1="97.20" x2="364.50" y2="240.15" stroke="#111" stroke-width="1.1" />
<line x1="363.95" y1="239.60" x2="492.30" y2="239.60" stroke="#111" stroke-width="1.1" />
<line x1="361.20" y1="100.80" x2="364.50" y2="100.80" stroke="#111" stroke-width="0.9" />
<text x="357.80" y="102.60" font-size="5.4" text-anchor="end" fill="#2a2a2a" stroke="#2a2a2a" stroke-width="0.135" >mitotic cell cycle</text>
<line x1="361.20" y1="107.87" x2="364.50" y2="107.87" stroke="#111" stroke-width="0.9" />
<text x="357.80" y="109.67" font-size="5.4" text-anchor="end" fill="#2a2a2a" stroke="#2a2a2a" stroke-width="0.135" >cell cycle process</text>
<line x1="361.20" y1="114.94" x2="364.50" y2="114.94" stroke="#111" stroke-width="0.9" />
<text x="357.80" y="116.74" font-size="5.4" text-anchor="end" fill="#2a2a2a" stroke="#2a2a2a" stroke-width="0.135" >cell cycle</text>
<line x1="361.20" y1="122.01" x2="364.50" y2="122.01" stroke="#111" stroke-width="0.9" />
<text x="357.80" y="123.81" font-size="5.4" text-anchor="end" fill="#2a2a2a" stroke="#2a2a2a" stroke-width="0.135" >mitotic cell cycle process</text>
<line x1="361.20" y1="129.08" x2="364.50" y2="129.08" stroke="#111" stroke-width="0.9" />
<text x="357.80" y="130.88" font-size="5.4" text-anchor="end" fill="#2a2a2a" stroke="#2a2a2a" stroke-width="0.135" >response to stress</text>
<line x1="361.20" y1="136.15" x2="364.50" y2="136.15" stroke="#111" stroke-width="0.9" />
<text x="357.80" y="137.95" font-size="5.4" text-anchor="end" fill="#2a2a2a" stroke="#2a2a2a" stroke-width="0.135" >cellular response to stress</text>
<line x1="361.20" y1="143.22" x2="364.50" y2="143.22" stroke="#111" stroke-width="0.9" />
<text x="357.80" y="145.02" font-size="5.4" text-anchor="end" fill="#2a2a2a" stroke="#2a2a2a" stroke-width="0.135" >DNA replication</text>
<line x1="361.20" y1="150.29" x2="364.50" y2="150.29" stroke="#111" stroke-width="0.9" />
<text x="357.80" y="152.09" font-size="5.4" text-anchor="end" fill="#2a2a2a" stroke="#2a2a2a" stroke-width="0.135" >regulation of cell cycle</text>
<line x1="361.20" y1="157.36" x2="364.50" y2="157.36" stroke="#111" stroke-width="0.9" />
<text x="357.80" y="159.16" font-size="5.4" text-anchor="end" fill="#2a2a2a" stroke="#2a2a2a" stroke-width="0.135" >mitot. cell cycle ph. transition</text>
<line x1="361.20" y1="164.43" x2="364.50" y2="164.43" stroke="#111" stroke-width="0.9" />
<text x="357.80" y="166.23" font-size="5.4" text-anchor="end" fill="#2a2a2a" stroke="#2a2a2a" stroke-width="0.135" >small molecule metab. process</text>
<line x1="361.20" y1="171.50" x2="364.50" y2="171.50" stroke="#111" stroke-width="0.9" />
<text x="357.80" y="173.30" font-size="5.4" text-anchor="end" fill="#2a2a2a" stroke="#2a2a2a" stroke-width="0.135" >nuclear division</text>
<line x1="361.20" y1="178.57" x2="364.50" y2="178.57" stroke="#111" stroke-width="0.9" />
<text x="357.80" y="180.37" font-size="5.4" text-anchor="end" fill="#2a2a2a" stroke="#2a2a2a" stroke-width="0.135" >organelle fission</text>
<line x1="361.20" y1="185.64" x2="364.50" y2="185.64" stroke="#111" stroke-width="0.9" />
<text x="357.80" y="187.44" font-size="5.4" text-anchor="end" fill="#2a2a2a" stroke="#2a2a2a" stroke-width="0.135" >cell cycle phase transition</text>
<line x1="361.20" y1="192.71" x2="364.50" y2="192.71" stroke="#111" stroke-width="0.9" />
<text x="357.80" y="194.51" font-size="5.4" text-anchor="end" fill="#2a2a2a" stroke="#2a2a2a" stroke-width="0.135" >chromosome segregation</text>
<line x1="361.20" y1="199.78" x2="364.50" y2="199.78" stroke="#111" stroke-width="0.9" />
<text x="357.80" y="201.58" font-size="5.4" text-anchor="end" fill="#2a2a2a" stroke="#2a2a2a" stroke-width="0.135" >mitotic nuclear division</text>
<line x1="361.20" y1="206.85" x2="364.50" y2="206.85" stroke="#111" stroke-width="0.9" />
<text x="357.80" y="208.65" font-size="5.4" text-anchor="end" fill="#2a2a2a" stroke="#2a2a2a" stroke-width="0.135" >cell division</text>
<line x1="361.20" y1="213.92" x2="364.50" y2="213.92" stroke="#111" stroke-width="0.9" />
<text x="357.80" y="215.72" font-size="5.4" text-anchor="end" fill="#2a2a2a" stroke="#2a2a2a" stroke-width="0.135" >nuclear chrom. segregation</text>
<line x1="361.20" y1="220.99" x2="364.50" y2="220.99" stroke="#111" stroke-width="0.9" />
<text x="357.80" y="222.79" font-size="5.4" text-anchor="end" fill="#2a2a2a" stroke="#2a2a2a" stroke-width="0.135" >sister chromatid segregation</text>
<line x1="361.20" y1="228.06" x2="364.50" y2="228.06" stroke="#111" stroke-width="0.9" />
<text x="357.80" y="229.86" font-size="5.4" text-anchor="end" fill="#2a2a2a" stroke="#2a2a2a" stroke-width="0.135" >mitot. sister chromat. segregation</text>
<line x1="361.20" y1="235.13" x2="364.50" y2="235.13" stroke="#111" stroke-width="0.9" />
<text x="357.80" y="236.93" font-size="5.4" text-anchor="end" fill="#2a2a2a" stroke="#2a2a2a" stroke-width="0.135" >DNA metabolic process</text>
<circle cx="415.40" cy="100.80" r="1.10" fill="#6e6e6e"/>
<circle cx="402.90" cy="107.87" r="1.20" fill="#6e6e6e"/>
<circle cx="394.60" cy="114.94" r="1.60" fill="#5a5a5a"/>
<circle cx="421.60" cy="122.01" r="1.20" fill="#cc2a0a"/>
<circle cx="369.70" cy="129.08" r="2.10" fill="#cc2a0a"/>
<circle cx="381.20" cy="136.15" r="1.60" fill="#cc2a0a"/>
<circle cx="393.00" cy="150.29" r="1.40" fill="#cc2a0a"/>
<circle cx="422.40" cy="157.36" r="0.90" fill="#cc2a0a"/>
<circle cx="377.30" cy="164.43" r="1.60" fill="#cc2a0a"/>
<circle cx="432.00" cy="171.50" r="1.10" fill="#cc2a0a"/>
<circle cx="425.80" cy="178.57" r="1.10" fill="#cc2a0a"/>
<circle cx="416.30" cy="185.64" r="1.10" fill="#cc2a0a"/>
<circle cx="447.10" cy="192.71" r="1.00" fill="#cc2a0a"/>
<circle cx="453.20" cy="199.78" r="1.00" fill="#cc2a0a"/>
<circle cx="411.10" cy="206.85" r="1.10" fill="#cc2a0a"/>
<circle cx="454.50" cy="213.92" r="1.00" fill="#cc2a0a"/>
<circle cx="476.90" cy="220.99" r="0.90" fill="#d04a3a"/>
<circle cx="486.20" cy="228.06" r="0.60" fill="#d4eaf2"/>
<circle cx="388.60" cy="235.13" r="1.00" fill="#a8d6ea"/>
<line x1="372.90" y1="239.60" x2="372.90" y2="242.80" stroke="#111" stroke-width="0.9" />
<text x="372.90" y="251.20" font-size="6.6" text-anchor="middle" textLength="3.3" lengthAdjust="spacingAndGlyphs" fill="#2a2a2a" stroke="#2a2a2a" stroke-width="0.150" >8</text>
<line x1="405.20" y1="239.60" x2="405.20" y2="242.80" stroke="#111" stroke-width="0.9" />
<text x="405.20" y="251.20" font-size="6.6" text-anchor="middle" textLength="6.61" lengthAdjust="spacingAndGlyphs" fill="#2a2a2a" stroke="#2a2a2a" stroke-width="0.150" >12</text>
<line x1="436.90" y1="239.60" x2="436.90" y2="242.80" stroke="#111" stroke-width="0.9" />
<text x="436.90" y="251.20" font-size="6.6" text-anchor="middle" textLength="6.61" lengthAdjust="spacingAndGlyphs" fill="#2a2a2a" stroke="#2a2a2a" stroke-width="0.150" >16</text>
<line x1="468.30" y1="239.60" x2="468.30" y2="242.80" stroke="#111" stroke-width="0.9" />
<text x="468.30" y="251.20" font-size="6.6" text-anchor="middle" textLength="6.61" lengthAdjust="spacingAndGlyphs" fill="#2a2a2a" stroke="#2a2a2a" stroke-width="0.150" >20</text>
<text x="397.50" y="262.80" font-size="7.9" textLength="61.9" lengthAdjust="spacingAndGlyphs" fill="#2a2a2a" stroke="#2a2a2a" stroke-width="0.150" >Fraction of genes (%)</text>
<text x="230.20" y="103.20" font-size="5.5" fill="#2a2a2a" stroke="#2a2a2a" stroke-width="0.138" >Number of</text>
<text x="230.20" y="109.60" font-size="5.5" fill="#2a2a2a" stroke="#2a2a2a" stroke-width="0.138" >enriched</text>
<text x="230.20" y="116.00" font-size="5.5" fill="#2a2a2a" stroke="#2a2a2a" stroke-width="0.138" >genes</text>
<circle cx="232.10" cy="122.90" r="1.10" fill="#111"/>
<text x="237.30" y="124.80" font-size="5.5" fill="#2a2a2a" stroke="#2a2a2a" stroke-width="0.138" >300</text>
<circle cx="232.10" cy="131.70" r="1.50" fill="#111"/>
<text x="237.30" y="133.60" font-size="5.5" fill="#2a2a2a" stroke="#2a2a2a" stroke-width="0.138" >600</text>
<circle cx="232.10" cy="140.30" r="1.90" fill="#111"/>
<text x="237.30" y="142.20" font-size="5.5" fill="#2a2a2a" stroke="#2a2a2a" stroke-width="0.138" >900</text>
<circle cx="232.10" cy="148.90" r="2.20" fill="#111"/>
<text x="237.30" y="150.80" font-size="5.5" fill="#2a2a2a" stroke="#2a2a2a" stroke-width="0.138" >1200</text>
<text x="230.20" y="162.80" font-size="5.5" fill="#2a2a2a" stroke="#2a2a2a" stroke-width="0.138" >p-Value</text>
<rect x="230.20" y="168.70" width="5.60" height="28.50" fill="url(#pv)" />
<text x="238.80" y="171.40" font-size="5.35" fill="#2a2a2a" stroke="#2a2a2a" stroke-width="0.134" >6.900e-20</text>
<text x="238.80" y="178.10" font-size="5.35" fill="#2a2a2a" stroke="#2a2a2a" stroke-width="0.134" >5.175e-20</text>
<text x="238.80" y="184.70" font-size="5.35" fill="#2a2a2a" stroke="#2a2a2a" stroke-width="0.134" >3.450e-20</text>
<text x="238.80" y="191.60" font-size="5.35" fill="#2a2a2a" stroke="#2a2a2a" stroke-width="0.134" >1.725e-20</text>
<text x="238.80" y="198.20" font-size="5.35" fill="#2a2a2a" stroke="#2a2a2a" stroke-width="0.134" >3.300e-20</text>
<text x="483.30" y="101.50" font-size="5.5" fill="#2a2a2a" stroke="#2a2a2a" stroke-width="0.138" >p-Value</text>
<rect x="483.30" y="107.10" width="5.60" height="28.60" fill="url(#pv)" />
<text x="492.10" y="110.00" font-size="5.3" fill="#2a2a2a" stroke="#2a2a2a" stroke-width="0.133" >1.40e-15</text>
<text x="492.10" y="116.90" font-size="5.3" fill="#2a2a2a" stroke="#2a2a2a" stroke-width="0.133" >1.05e-15</text>
<text x="492.10" y="123.00" font-size="5.3" fill="#2a2a2a" stroke="#2a2a2a" stroke-width="0.133" >7.00e-16</text>
<text x="492.10" y="130.00" font-size="5.3" fill="#2a2a2a" stroke="#2a2a2a" stroke-width="0.133" >3.50e-16</text>
<text x="492.10" y="136.60" font-size="5.3" fill="#2a2a2a" stroke="#2a2a2a" stroke-width="0.133" >1.40e-30</text>
<text x="483.30" y="148.20" font-size="5.5" fill="#2a2a2a" stroke="#2a2a2a" stroke-width="0.138" >Number of</text>
<text x="483.30" y="154.70" font-size="5.5" fill="#2a2a2a" stroke="#2a2a2a" stroke-width="0.138" >enriched</text>
<text x="483.30" y="161.10" font-size="5.5" fill="#2a2a2a" stroke="#2a2a2a" stroke-width="0.138" >genes</text>
<circle cx="485.70" cy="167.90" r="1.00" fill="#111"/>
<text x="490.40" y="169.80" font-size="5.5" fill="#2a2a2a" stroke="#2a2a2a" stroke-width="0.138" >100</text>
<circle cx="485.70" cy="176.70" r="1.60" fill="#111"/>
<text x="490.40" y="178.60" font-size="5.5" fill="#2a2a2a" stroke="#2a2a2a" stroke-width="0.138" >200</text>
<text x="5.51" y="280.70" font-size="11.4" font-weight="bold" fill="#000" stroke="#000" stroke-width="0.35" textLength="8.00" lengthAdjust="spacingAndGlyphs">B</text>
<line x1="42.40" y1="273.00" x2="42.40" y2="357.70" stroke="#2a2a2a" stroke-width="1.5" />
<line x1="39.20" y1="351.00" x2="42.40" y2="351.00" stroke="#1a1a1a" stroke-width="0.9" />
<text x="36.00" y="353.30" font-size="6.4" text-anchor="end" textLength="3.13" lengthAdjust="spacingAndGlyphs" fill="#2a2a2a" stroke="#2a2a2a" stroke-width="0.150" >0</text>
<line x1="39.20" y1="336.90" x2="42.40" y2="336.90" stroke="#1a1a1a" stroke-width="0.9" />
<text x="36.00" y="339.20" font-size="6.4" text-anchor="end" textLength="6.26" lengthAdjust="spacingAndGlyphs" fill="#2a2a2a" stroke="#2a2a2a" stroke-width="0.150" >20</text>
<line x1="39.20" y1="322.80" x2="42.40" y2="322.80" stroke="#1a1a1a" stroke-width="0.9" />
<text x="36.00" y="325.10" font-size="6.4" text-anchor="end" textLength="6.26" lengthAdjust="spacingAndGlyphs" fill="#2a2a2a" stroke="#2a2a2a" stroke-width="0.150" >40</text>
<line x1="39.20" y1="308.70" x2="42.40" y2="308.70" stroke="#1a1a1a" stroke-width="0.9" />
<text x="36.00" y="311.00" font-size="6.4" text-anchor="end" textLength="6.26" lengthAdjust="spacingAndGlyphs" fill="#2a2a2a" stroke="#2a2a2a" stroke-width="0.150" >60</text>
<line x1="39.20" y1="294.60" x2="42.40" y2="294.60" stroke="#1a1a1a" stroke-width="0.9" />
<text x="36.00" y="296.90" font-size="6.4" text-anchor="end" textLength="6.26" lengthAdjust="spacingAndGlyphs" fill="#2a2a2a" stroke="#2a2a2a" stroke-width="0.150" >80</text>
<line x1="39.20" y1="280.50" x2="42.40" y2="280.50" stroke="#1a1a1a" stroke-width="0.9" />
<text x="36.00" y="282.80" font-size="6.4" text-anchor="end" textLength="9.4" lengthAdjust="spacingAndGlyphs" fill="#2a2a2a" stroke="#2a2a2a" stroke-width="0.150" >100</text>
<line x1="41.60" y1="357.10" x2="88.80" y2="357.10" stroke="#2a2a2a" stroke-width="1.5" />
<rect x="49.70" y="340.43" width="6.60" height="10.57" fill="#48195e" />
<rect x="49.70" y="308.00" width="6.60" height="32.43" fill="#64a83c" />
<rect x="49.70" y="282.26" width="6.60" height="25.73" fill="#26457f" />
<rect x="49.70" y="280.50" width="6.60" height="1.76" fill="#ad0a34" />
<line x1="53.00" y1="341.13" x2="53.00" y2="339.72" stroke="#111" stroke-width="0.8" />
<line x1="51.40" y1="339.72" x2="54.60" y2="339.72" stroke="#111" stroke-width="0.8" />
<line x1="51.40" y1="341.13" x2="54.60" y2="341.13" stroke="#111" stroke-width="0.8" />
<line x1="53.00" y1="309.40" x2="53.00" y2="306.58" stroke="#111" stroke-width="0.8" />
<line x1="51.40" y1="306.58" x2="54.60" y2="306.58" stroke="#111" stroke-width="0.8" />
<line x1="51.40" y1="309.40" x2="54.60" y2="309.40" stroke="#111" stroke-width="0.8" />
<line x1="53.00" y1="283.32" x2="53.00" y2="281.20" stroke="#111" stroke-width="0.8" />
<line x1="51.40" y1="281.20" x2="54.60" y2="281.20" stroke="#111" stroke-width="0.8" />
<line x1="51.40" y1="283.32" x2="54.60" y2="283.32" stroke="#111" stroke-width="0.8" />
<rect x="59.80" y="341.13" width="6.60" height="9.87" fill="#48195e" />
<rect x="59.80" y="310.11" width="6.60" height="31.02" fill="#64a83c" />
<rect x="59.80" y="282.62" width="6.60" height="27.49" fill="#26457f" />
<rect x="59.80" y="280.50" width="6.60" height="2.11" fill="#ad0a34" />
<line x1="63.10" y1="341.83" x2="63.10" y2="340.43" stroke="#111" stroke-width="0.8" />
<line x1="61.50" y1="340.43" x2="64.70" y2="340.43" stroke="#111" stroke-width="0.8" />
<line x1="61.50" y1="341.83" x2="64.70" y2="341.83" stroke="#111" stroke-width="0.8" />
<line x1="63.10" y1="311.52" x2="63.10" y2="308.70" stroke="#111" stroke-width="0.8" />
<line x1="61.50" y1="308.70" x2="64.70" y2="308.70" stroke="#111" stroke-width="0.8" />
<line x1="61.50" y1="311.52" x2="64.70" y2="311.52" stroke="#111" stroke-width="0.8" />
<line x1="63.10" y1="283.67" x2="63.10" y2="281.56" stroke="#111" stroke-width="0.8" />
<line x1="61.50" y1="281.56" x2="64.70" y2="281.56" stroke="#111" stroke-width="0.8" />
<line x1="61.50" y1="283.67" x2="64.70" y2="283.67" stroke="#111" stroke-width="0.8" />
<rect x="69.90" y="342.54" width="6.60" height="8.46" fill="#48195e" />
<rect x="69.90" y="316.45" width="6.60" height="26.08" fill="#64a83c" />
<rect x="69.90" y="284.73" width="6.60" height="31.72" fill="#26457f" />
<rect x="69.90" y="280.50" width="6.60" height="4.23" fill="#ad0a34" />
<line x1="73.20" y1="343.25" x2="73.20" y2="341.83" stroke="#111" stroke-width="0.8" />
<line x1="71.60" y1="341.83" x2="74.80" y2="341.83" stroke="#111" stroke-width="0.8" />
<line x1="71.60" y1="343.25" x2="74.80" y2="343.25" stroke="#111" stroke-width="0.8" />
<line x1="73.20" y1="318.22" x2="73.20" y2="314.69" stroke="#111" stroke-width="0.8" />
<line x1="71.60" y1="314.69" x2="74.80" y2="314.69" stroke="#111" stroke-width="0.8" />
<line x1="71.60" y1="318.22" x2="74.80" y2="318.22" stroke="#111" stroke-width="0.8" />
<line x1="73.20" y1="286.49" x2="73.20" y2="282.97" stroke="#111" stroke-width="0.8" />
<line x1="71.60" y1="282.97" x2="74.80" y2="282.97" stroke="#111" stroke-width="0.8" />
<line x1="71.60" y1="286.49" x2="74.80" y2="286.49" stroke="#111" stroke-width="0.8" />
<rect x="80.00" y="345.36" width="6.60" height="5.64" fill="#48195e" />
<rect x="80.00" y="332.67" width="6.60" height="12.69" fill="#64a83c" />
<rect x="80.00" y="303.06" width="6.60" height="29.61" fill="#26457f" />
<rect x="80.00" y="280.50" width="6.60" height="22.56" fill="#ad0a34" />
<line x1="83.30" y1="345.71" x2="83.30" y2="345.01" stroke="#111" stroke-width="0.8" />
<line x1="81.70" y1="345.01" x2="84.90" y2="345.01" stroke="#111" stroke-width="0.8" />
<line x1="81.70" y1="345.71" x2="84.90" y2="345.71" stroke="#111" stroke-width="0.8" />
<line x1="83.30" y1="334.08" x2="83.30" y2="331.26" stroke="#111" stroke-width="0.8" />
<line x1="81.70" y1="331.26" x2="84.90" y2="331.26" stroke="#111" stroke-width="0.8" />
<line x1="81.70" y1="334.08" x2="84.90" y2="334.08" stroke="#111" stroke-width="0.8" />
<line x1="83.30" y1="282.97" x2="83.30" y2="280.85" stroke="#111" stroke-width="0.8" />
<line x1="81.70" y1="280.85" x2="84.90" y2="280.85" stroke="#111" stroke-width="0.8" />
<line x1="81.70" y1="282.97" x2="84.90" y2="282.97" stroke="#111" stroke-width="0.8" />
<text x="52.90" y="365.90" font-size="6.4" text-anchor="middle" textLength="3.2" lengthAdjust="spacingAndGlyphs" fill="#2a2a2a" stroke="#2a2a2a" stroke-width="0.150" >0</text>
<text x="63.00" y="365.90" font-size="6.4" text-anchor="middle" textLength="3.2" lengthAdjust="spacingAndGlyphs" fill="#2a2a2a" stroke="#2a2a2a" stroke-width="0.150" >1</text>
<text x="73.10" y="365.90" font-size="6.4" text-anchor="middle" textLength="3.2" lengthAdjust="spacingAndGlyphs" fill="#2a2a2a" stroke="#2a2a2a" stroke-width="0.150" >3</text>
<text x="83.20" y="365.90" font-size="6.4" text-anchor="middle" textLength="3.2" lengthAdjust="spacingAndGlyphs" fill="#2a2a2a" stroke="#2a2a2a" stroke-width="0.150" >6</text>
<text x="46.90" y="377.60" font-size="8.0" textLength="37.300000000000004" lengthAdjust="spacingAndGlyphs" fill="#2a2a2a" stroke="#2a2a2a" stroke-width="0.150" >NSC12 [μM]</text>
<text transform="translate(20.20,315.30) rotate(-90)" x="0" y="0" font-size="7.6" text-anchor="middle" textLength="53.7" lengthAdjust="spacingAndGlyphs" fill="#2a2a2a" stroke="#2a2a2a" stroke-width="0.150" >BCWM.1 cells (%)</text>
<line x1="132.80" y1="273.00" x2="132.80" y2="358.00" stroke="#2a2a2a" stroke-width="1.5" />
<line x1="129.60" y1="351.20" x2="132.80" y2="351.20" stroke="#1a1a1a" stroke-width="0.9" />
<text x="126.40" y="353.50" font-size="6.4" text-anchor="end" textLength="3.13" lengthAdjust="spacingAndGlyphs" fill="#2a2a2a" stroke="#2a2a2a" stroke-width="0.150" >0</text>
<line x1="129.60" y1="337.20" x2="132.80" y2="337.20" stroke="#1a1a1a" stroke-width="0.9" />
<text x="126.40" y="339.50" font-size="6.4" text-anchor="end" textLength="6.26" lengthAdjust="spacingAndGlyphs" fill="#2a2a2a" stroke="#2a2a2a" stroke-width="0.150" >20</text>
<line x1="129.60" y1="323.20" x2="132.80" y2="323.20" stroke="#1a1a1a" stroke-width="0.9" />
<text x="126.40" y="325.50" font-size="6.4" text-anchor="end" textLength="6.26" lengthAdjust="spacingAndGlyphs" fill="#2a2a2a" stroke="#2a2a2a" stroke-width="0.150" >40</text>
<line x1="129.60" y1="309.20" x2="132.80" y2="309.20" stroke="#1a1a1a" stroke-width="0.9" />
<text x="126.40" y="311.50" font-size="6.4" text-anchor="end" textLength="6.26" lengthAdjust="spacingAndGlyphs" fill="#2a2a2a" stroke="#2a2a2a" stroke-width="0.150" >60</text>
<line x1="129.60" y1="295.20" x2="132.80" y2="295.20" stroke="#1a1a1a" stroke-width="0.9" />
<text x="126.40" y="297.50" font-size="6.4" text-anchor="end" textLength="6.26" lengthAdjust="spacingAndGlyphs" fill="#2a2a2a" stroke="#2a2a2a" stroke-width="0.150" >80</text>
<line x1="129.60" y1="281.20" x2="132.80" y2="281.20" stroke="#1a1a1a" stroke-width="0.9" />
<text x="126.40" y="283.50" font-size="6.4" text-anchor="end" textLength="9.4" lengthAdjust="spacingAndGlyphs" fill="#2a2a2a" stroke="#2a2a2a" stroke-width="0.150" >100</text>
<line x1="132.00" y1="357.40" x2="180.80" y2="357.40" stroke="#2a2a2a" stroke-width="1.5" />
<rect x="140.40" y="342.10" width="7.00" height="9.10" fill="#48195e" />
<rect x="140.40" y="314.80" width="7.00" height="27.30" fill="#64a83c" />
<rect x="140.40" y="286.10" width="7.00" height="28.70" fill="#26457f" />
<rect x="140.40" y="281.20" width="7.00" height="4.90" fill="#ad0a34" />
<line x1="143.90" y1="343.50" x2="143.90" y2="340.70" stroke="#111" stroke-width="0.8" />
<line x1="142.30" y1="340.70" x2="145.50" y2="340.70" stroke="#111" stroke-width="0.8" />
<line x1="142.30" y1="343.50" x2="145.50" y2="343.50" stroke="#111" stroke-width="0.8" />
<line x1="143.90" y1="317.60" x2="143.90" y2="314.80" stroke="#111" stroke-width="0.8" />
<line x1="142.30" y1="314.80" x2="145.50" y2="314.80" stroke="#111" stroke-width="0.8" />
<line x1="142.30" y1="317.60" x2="145.50" y2="317.60" stroke="#111" stroke-width="0.8" />
<line x1="143.90" y1="286.80" x2="143.90" y2="285.40" stroke="#111" stroke-width="0.8" />
<line x1="142.30" y1="285.40" x2="145.50" y2="285.40" stroke="#111" stroke-width="0.8" />
<line x1="142.30" y1="286.80" x2="145.50" y2="286.80" stroke="#111" stroke-width="0.8" />
<rect x="150.50" y="339.30" width="7.00" height="11.90" fill="#48195e" />
<rect x="150.50" y="311.30" width="7.00" height="28.00" fill="#64a83c" />
<rect x="150.50" y="283.30" width="7.00" height="28.00" fill="#26457f" />
<rect x="150.50" y="281.20" width="7.00" height="2.10" fill="#ad0a34" />
<line x1="154.00" y1="340.00" x2="154.00" y2="338.60" stroke="#111" stroke-width="0.8" />
<line x1="152.40" y1="338.60" x2="155.60" y2="338.60" stroke="#111" stroke-width="0.8" />
<line x1="152.40" y1="340.00" x2="155.60" y2="340.00" stroke="#111" stroke-width="0.8" />
<line x1="154.00" y1="312.00" x2="154.00" y2="310.60" stroke="#111" stroke-width="0.8" />
<line x1="152.40" y1="310.60" x2="155.60" y2="310.60" stroke="#111" stroke-width="0.8" />
<line x1="152.40" y1="312.00" x2="155.60" y2="312.00" stroke="#111" stroke-width="0.8" />
<line x1="154.00" y1="284.00" x2="154.00" y2="282.60" stroke="#111" stroke-width="0.8" />
<line x1="152.40" y1="282.60" x2="155.60" y2="282.60" stroke="#111" stroke-width="0.8" />
<line x1="152.40" y1="284.00" x2="155.60" y2="284.00" stroke="#111" stroke-width="0.8" />
<rect x="160.50" y="341.40" width="7.00" height="9.80" fill="#48195e" />
<rect x="160.50" y="318.30" width="7.00" height="23.10" fill="#64a83c" />
<rect x="160.50" y="284.70" width="7.00" height="33.60" fill="#26457f" />
<rect x="160.50" y="281.20" width="7.00" height="3.50" fill="#ad0a34" />
<line x1="164.00" y1="342.10" x2="164.00" y2="340.70" stroke="#111" stroke-width="0.8" />
<line x1="162.40" y1="340.70" x2="165.60" y2="340.70" stroke="#111" stroke-width="0.8" />
<line x1="162.40" y1="342.10" x2="165.60" y2="342.10" stroke="#111" stroke-width="0.8" />
<line x1="164.00" y1="319.00" x2="164.00" y2="317.60" stroke="#111" stroke-width="0.8" />
<line x1="162.40" y1="317.60" x2="165.60" y2="317.60" stroke="#111" stroke-width="0.8" />
<line x1="162.40" y1="319.00" x2="165.60" y2="319.00" stroke="#111" stroke-width="0.8" />
<line x1="164.00" y1="285.40" x2="164.00" y2="284.00" stroke="#111" stroke-width="0.8" />
<line x1="162.40" y1="284.00" x2="165.60" y2="284.00" stroke="#111" stroke-width="0.8" />
<line x1="162.40" y1="285.40" x2="165.60" y2="285.40" stroke="#111" stroke-width="0.8" />
<rect x="170.50" y="345.60" width="7.00" height="5.60" fill="#48195e" />
<rect x="170.50" y="335.80" width="7.00" height="9.80" fill="#64a83c" />
<rect x="170.50" y="303.60" width="7.00" height="32.20" fill="#26457f" />
<rect x="170.50" y="281.20" width="7.00" height="22.40" fill="#ad0a34" />
<line x1="174.00" y1="346.30" x2="174.00" y2="344.90" stroke="#111" stroke-width="0.8" />
<line x1="172.40" y1="344.90" x2="175.60" y2="344.90" stroke="#111" stroke-width="0.8" />
<line x1="172.40" y1="346.30" x2="175.60" y2="346.30" stroke="#111" stroke-width="0.8" />
<line x1="174.00" y1="336.50" x2="174.00" y2="335.10" stroke="#111" stroke-width="0.8" />
<line x1="172.40" y1="335.10" x2="175.60" y2="335.10" stroke="#111" stroke-width="0.8" />
<line x1="172.40" y1="336.50" x2="175.60" y2="336.50" stroke="#111" stroke-width="0.8" />
<line x1="174.00" y1="304.30" x2="174.00" y2="302.90" stroke="#111" stroke-width="0.8" />
<line x1="172.40" y1="302.90" x2="175.60" y2="302.90" stroke="#111" stroke-width="0.8" />
<line x1="172.40" y1="304.30" x2="175.60" y2="304.30" stroke="#111" stroke-width="0.8" />
<text x="143.10" y="366.10" font-size="6.4" text-anchor="middle" textLength="3.2" lengthAdjust="spacingAndGlyphs" fill="#2a2a2a" stroke="#2a2a2a" stroke-width="0.150" >0</text>
<text x="153.80" y="366.10" font-size="6.4" text-anchor="middle" textLength="3.2" lengthAdjust="spacingAndGlyphs" fill="#2a2a2a" stroke="#2a2a2a" stroke-width="0.150" >1</text>
<text x="164.10" y="366.10" font-size="6.4" text-anchor="middle" textLength="3.2" lengthAdjust="spacingAndGlyphs" fill="#2a2a2a" stroke="#2a2a2a" stroke-width="0.150" >3</text>
<text x="174.00" y="366.10" font-size="6.4" text-anchor="middle" textLength="3.2" lengthAdjust="spacingAndGlyphs" fill="#2a2a2a" stroke="#2a2a2a" stroke-width="0.150" >6</text>
<text x="137.70" y="377.60" font-size="8.0" textLength="36.900000000000006" lengthAdjust="spacingAndGlyphs" fill="#2a2a2a" stroke="#2a2a2a" stroke-width="0.150" >NSC12 [μM]</text>
<text transform="translate(111.20,314.80) rotate(-90)" x="0" y="0" font-size="7.6" text-anchor="middle" textLength="50.2" lengthAdjust="spacingAndGlyphs" fill="#2a2a2a" stroke="#2a2a2a" stroke-width="0.150" >MWCL.1 cells (%)</text>
<rect x="185.50" y="299.20" width="5.50" height="5.30" fill="#ad0a34" />
<text x="193.80" y="303.80" font-size="5.3" fill="#2a2a2a" stroke="#2a2a2a" stroke-width="0.133" >Sub-G0</text>
<rect x="185.50" y="308.10" width="5.50" height="5.30" fill="#26457f" />
<text x="193.80" y="312.70" font-size="5.3" fill="#2a2a2a" stroke="#2a2a2a" stroke-width="0.133" >G0/G1</text>
<rect x="185.50" y="316.90" width="5.50" height="5.30" fill="#64a83c" />
<text x="193.80" y="321.50" font-size="5.3" fill="#2a2a2a" stroke="#2a2a2a" stroke-width="0.133" >S</text>
<rect x="185.50" y="325.50" width="5.50" height="5.30" fill="#48195e" />
<text x="193.80" y="330.10" font-size="5.3" fill="#2a2a2a" stroke="#2a2a2a" stroke-width="0.133" >G2/M</text>
<text x="4.95" y="395.40" font-size="11.4" font-weight="bold" fill="#000" stroke="#000" stroke-width="0.35" textLength="8.80" lengthAdjust="spacingAndGlyphs">C</text>
<line x1="42.00" y1="396.20" x2="42.00" y2="471.90" stroke="#2a2a2a" stroke-width="1.5" />
<line x1="38.80" y1="465.75" x2="42.00" y2="465.75" stroke="#1a1a1a" stroke-width="0.9" />
<text x="35.60" y="468.05" font-size="6.4" text-anchor="end" textLength="3.13" lengthAdjust="spacingAndGlyphs" fill="#2a2a2a" stroke="#2a2a2a" stroke-width="0.150" >0</text>
<line x1="38.80" y1="452.25" x2="42.00" y2="452.25" stroke="#1a1a1a" stroke-width="0.9" />
<text x="35.60" y="454.55" font-size="6.4" text-anchor="end" textLength="6.26" lengthAdjust="spacingAndGlyphs" fill="#2a2a2a" stroke="#2a2a2a" stroke-width="0.150" >20</text>
<line x1="38.80" y1="438.75" x2="42.00" y2="438.75" stroke="#1a1a1a" stroke-width="0.9" />
<text x="35.60" y="441.05" font-size="6.4" text-anchor="end" textLength="6.26" lengthAdjust="spacingAndGlyphs" fill="#2a2a2a" stroke="#2a2a2a" stroke-width="0.150" >40</text>
<line x1="38.80" y1="425.25" x2="42.00" y2="425.25" stroke="#1a1a1a" stroke-width="0.9" />
<text x="35.60" y="427.55" font-size="6.4" text-anchor="end" textLength="6.26" lengthAdjust="spacingAndGlyphs" fill="#2a2a2a" stroke="#2a2a2a" stroke-width="0.150" >60</text>
<line x1="38.80" y1="411.75" x2="42.00" y2="411.75" stroke="#1a1a1a" stroke-width="0.9" />
<text x="35.60" y="414.05" font-size="6.4" text-anchor="end" textLength="6.26" lengthAdjust="spacingAndGlyphs" fill="#2a2a2a" stroke="#2a2a2a" stroke-width="0.150" >80</text>
<line x1="38.80" y1="398.25" x2="42.00" y2="398.25" stroke="#1a1a1a" stroke-width="0.9" />
<text x="35.60" y="400.55" font-size="6.4" text-anchor="end" textLength="9.4" lengthAdjust="spacingAndGlyphs" fill="#2a2a2a" stroke="#2a2a2a" stroke-width="0.150" >100</text>
<line x1="41.25" y1="471.30" x2="86.00" y2="471.30" stroke="#2a2a2a" stroke-width="1.5" />
<line x1="49.38" y1="449.38" x2="49.38" y2="446.18" stroke="#333" stroke-width="0.9" />
<line x1="47.48" y1="446.18" x2="51.27" y2="446.18" stroke="#333" stroke-width="0.9" />
<rect x="45.50" y="448.88" width="7.75" height="16.88" fill="#a40a30" />
<line x1="59.48" y1="450.05" x2="59.48" y2="446.85" stroke="#333" stroke-width="0.9" />
<line x1="57.58" y1="446.85" x2="61.38" y2="446.85" stroke="#333" stroke-width="0.9" />
<rect x="55.60" y="449.55" width="7.75" height="16.20" fill="#a40a30" />
<line x1="69.58" y1="451.40" x2="69.58" y2="448.20" stroke="#333" stroke-width="0.9" />
<line x1="67.67" y1="448.20" x2="71.48" y2="448.20" stroke="#333" stroke-width="0.9" />
<rect x="65.70" y="450.90" width="7.75" height="14.85" fill="#a40a30" />
<line x1="79.67" y1="421.02" x2="79.67" y2="411.07" stroke="#333" stroke-width="0.9" />
<line x1="77.77" y1="411.07" x2="81.58" y2="411.07" stroke="#333" stroke-width="0.9" />
<rect x="75.80" y="420.52" width="7.75" height="45.23" fill="#a40a30" />
<text x="57.50" y="390.55" font-size="5.8" textLength="15.00" lengthAdjust="spacingAndGlyphs" fill="#2a2a2a" stroke="#2a2a2a" stroke-width="0.12"><tspan font-style="italic">P</tspan> 0.04</text>
<line x1="49.25" y1="396.00" x2="80.00" y2="396.00" stroke="#3a3a3a" stroke-width="1.2" />
<line x1="49.55" y1="394.90" x2="49.55" y2="397.10" stroke="#222" stroke-width="1.0" />
<line x1="79.70" y1="394.90" x2="79.70" y2="397.10" stroke="#222" stroke-width="1.0" />
<text x="49.40" y="480.10" font-size="6.4" text-anchor="middle" textLength="3.2" lengthAdjust="spacingAndGlyphs" fill="#2a2a2a" stroke="#2a2a2a" stroke-width="0.150" >0</text>
<text x="59.50" y="480.10" font-size="6.4" text-anchor="middle" textLength="3.2" lengthAdjust="spacingAndGlyphs" fill="#2a2a2a" stroke="#2a2a2a" stroke-width="0.150" >1</text>
<text x="69.60" y="480.10" font-size="6.4" text-anchor="middle" textLength="3.2" lengthAdjust="spacingAndGlyphs" fill="#2a2a2a" stroke="#2a2a2a" stroke-width="0.150" >3</text>
<text x="79.60" y="480.10" font-size="6.4" text-anchor="middle" textLength="3.2" lengthAdjust="spacingAndGlyphs" fill="#2a2a2a" stroke="#2a2a2a" stroke-width="0.150" >6</text>
<text x="44.30" y="491.30" font-size="8.0" textLength="37.8" lengthAdjust="spacingAndGlyphs" fill="#2a2a2a" stroke="#2a2a2a" stroke-width="0.150" >NSC12 [μM]</text>
<text transform="translate(20.00,433.10) rotate(-90)" x="0" y="0" font-size="7.4" text-anchor="middle" textLength="67.6" lengthAdjust="spacingAndGlyphs" fill="#2a2a2a" stroke="#2a2a2a" stroke-width="0.150" >BCWM.1 cell death (%)</text>
<line x1="124.25" y1="396.20" x2="124.25" y2="471.90" stroke="#2a2a2a" stroke-width="1.5" />
<line x1="121.05" y1="465.75" x2="124.25" y2="465.75" stroke="#1a1a1a" stroke-width="0.9" />
<text x="117.85" y="468.05" font-size="6.4" text-anchor="end" textLength="3.13" lengthAdjust="spacingAndGlyphs" fill="#2a2a2a" stroke="#2a2a2a" stroke-width="0.150" >0</text>
<line x1="121.05" y1="452.25" x2="124.25" y2="452.25" stroke="#1a1a1a" stroke-width="0.9" />
<text x="117.85" y="454.55" font-size="6.4" text-anchor="end" textLength="6.26" lengthAdjust="spacingAndGlyphs" fill="#2a2a2a" stroke="#2a2a2a" stroke-width="0.150" >20</text>
<line x1="121.05" y1="438.75" x2="124.25" y2="438.75" stroke="#1a1a1a" stroke-width="0.9" />
<text x="117.85" y="441.05" font-size="6.4" text-anchor="end" textLength="6.26" lengthAdjust="spacingAndGlyphs" fill="#2a2a2a" stroke="#2a2a2a" stroke-width="0.150" >40</text>
<line x1="121.05" y1="425.25" x2="124.25" y2="425.25" stroke="#1a1a1a" stroke-width="0.9" />
<text x="117.85" y="427.55" font-size="6.4" text-anchor="end" textLength="6.26" lengthAdjust="spacingAndGlyphs" fill="#2a2a2a" stroke="#2a2a2a" stroke-width="0.150" >60</text>
<line x1="121.05" y1="411.75" x2="124.25" y2="411.75" stroke="#1a1a1a" stroke-width="0.9" />
<text x="117.85" y="414.05" font-size="6.4" text-anchor="end" textLength="6.26" lengthAdjust="spacingAndGlyphs" fill="#2a2a2a" stroke="#2a2a2a" stroke-width="0.150" >80</text>
<line x1="121.05" y1="398.25" x2="124.25" y2="398.25" stroke="#1a1a1a" stroke-width="0.9" />
<text x="117.85" y="400.55" font-size="6.4" text-anchor="end" textLength="9.4" lengthAdjust="spacingAndGlyphs" fill="#2a2a2a" stroke="#2a2a2a" stroke-width="0.150" >100</text>
<line x1="123.50" y1="471.30" x2="167.60" y2="471.30" stroke="#2a2a2a" stroke-width="1.5" />
<line x1="131.38" y1="443.30" x2="131.38" y2="436.05" stroke="#333" stroke-width="0.9" />
<line x1="129.47" y1="436.05" x2="133.28" y2="436.05" stroke="#333" stroke-width="0.9" />
<rect x="127.50" y="442.80" width="7.75" height="22.95" fill="#a40a30" />
<line x1="141.47" y1="442.62" x2="141.47" y2="435.38" stroke="#333" stroke-width="0.9" />
<line x1="139.57" y1="435.38" x2="143.38" y2="435.38" stroke="#333" stroke-width="0.9" />
<rect x="137.60" y="442.12" width="7.75" height="23.62" fill="#a40a30" />
<line x1="151.47" y1="441.95" x2="151.47" y2="436.73" stroke="#333" stroke-width="0.9" />
<line x1="149.57" y1="436.73" x2="153.38" y2="436.73" stroke="#333" stroke-width="0.9" />
<rect x="147.60" y="441.45" width="7.75" height="24.30" fill="#a40a30" />
<line x1="161.62" y1="403.48" x2="161.62" y2="400.27" stroke="#333" stroke-width="0.9" />
<line x1="159.72" y1="400.27" x2="163.53" y2="400.27" stroke="#333" stroke-width="0.9" />
<rect x="157.75" y="402.98" width="7.75" height="62.78" fill="#a40a30" />
<text x="139.50" y="390.55" font-size="5.8" textLength="14.50" lengthAdjust="spacingAndGlyphs" fill="#2a2a2a" stroke="#2a2a2a" stroke-width="0.12"><tspan font-style="italic">P</tspan> 0.02</text>
<line x1="131.25" y1="396.00" x2="162.00" y2="396.00" stroke="#3a3a3a" stroke-width="1.2" />
<line x1="131.55" y1="394.90" x2="131.55" y2="397.10" stroke="#222" stroke-width="1.0" />
<line x1="161.70" y1="394.90" x2="161.70" y2="397.10" stroke="#222" stroke-width="1.0" />
<text x="131.40" y="480.10" font-size="6.4" text-anchor="middle" textLength="3.2" lengthAdjust="spacingAndGlyphs" fill="#2a2a2a" stroke="#2a2a2a" stroke-width="0.150" >0</text>
<text x="141.50" y="480.10" font-size="6.4" text-anchor="middle" textLength="3.2" lengthAdjust="spacingAndGlyphs" fill="#2a2a2a" stroke="#2a2a2a" stroke-width="0.150" >1</text>
<text x="151.50" y="480.10" font-size="6.4" text-anchor="middle" textLength="3.2" lengthAdjust="spacingAndGlyphs" fill="#2a2a2a" stroke="#2a2a2a" stroke-width="0.150" >3</text>
<text x="161.60" y="480.10" font-size="6.4" text-anchor="middle" textLength="3.2" lengthAdjust="spacingAndGlyphs" fill="#2a2a2a" stroke="#2a2a2a" stroke-width="0.150" >6</text>
<text x="126.25" y="491.30" font-size="8.0" textLength="37.05000000000001" lengthAdjust="spacingAndGlyphs" fill="#2a2a2a" stroke="#2a2a2a" stroke-width="0.150" >NSC12 [μM]</text>
<text transform="translate(104.00,432.90) rotate(-90)" x="0" y="0" font-size="7.4" text-anchor="middle" textLength="67.1" lengthAdjust="spacingAndGlyphs" fill="#2a2a2a" stroke="#2a2a2a" stroke-width="0.150" >MWCL.1 cell death (%)</text>
<line x1="216.25" y1="397.00" x2="216.25" y2="471.90" stroke="#2a2a2a" stroke-width="1.5" />
<line x1="213.05" y1="465.75" x2="216.25" y2="465.75" stroke="#1a1a1a" stroke-width="0.9" />
<text x="209.85" y="468.05" font-size="6.4" text-anchor="end" textLength="3.13" lengthAdjust="spacingAndGlyphs" fill="#2a2a2a" stroke="#2a2a2a" stroke-width="0.150" >0</text>
<line x1="213.05" y1="452.35" x2="216.25" y2="452.35" stroke="#1a1a1a" stroke-width="0.9" />
<text x="209.85" y="454.65" font-size="6.4" text-anchor="end" textLength="6.26" lengthAdjust="spacingAndGlyphs" fill="#2a2a2a" stroke="#2a2a2a" stroke-width="0.150" >25</text>
<line x1="213.05" y1="438.95" x2="216.25" y2="438.95" stroke="#1a1a1a" stroke-width="0.9" />
<text x="209.85" y="441.25" font-size="6.4" text-anchor="end" textLength="6.26" lengthAdjust="spacingAndGlyphs" fill="#2a2a2a" stroke="#2a2a2a" stroke-width="0.150" >50</text>
<line x1="213.05" y1="425.55" x2="216.25" y2="425.55" stroke="#1a1a1a" stroke-width="0.9" />
<text x="209.85" y="427.85" font-size="6.4" text-anchor="end" textLength="6.26" lengthAdjust="spacingAndGlyphs" fill="#2a2a2a" stroke="#2a2a2a" stroke-width="0.150" >75</text>
<line x1="213.05" y1="412.15" x2="216.25" y2="412.15" stroke="#1a1a1a" stroke-width="0.9" />
<text x="209.85" y="414.45" font-size="6.4" text-anchor="end" textLength="9.4" lengthAdjust="spacingAndGlyphs" fill="#2a2a2a" stroke="#2a2a2a" stroke-width="0.150" >100</text>
<line x1="213.05" y1="398.75" x2="216.25" y2="398.75" stroke="#1a1a1a" stroke-width="0.9" />
<text x="209.85" y="401.05" font-size="6.4" text-anchor="end" textLength="9.4" lengthAdjust="spacingAndGlyphs" fill="#2a2a2a" stroke="#2a2a2a" stroke-width="0.150" >125</text>
<line x1="215.50" y1="471.30" x2="259.50" y2="471.30" stroke="#2a2a2a" stroke-width="1.5" />
<rect x="219.50" y="412.15" width="7.60" height="53.60" fill="#a40a30" />
<line x1="233.80" y1="409.43" x2="233.80" y2="402.50" stroke="#333" stroke-width="0.9" />
<line x1="231.90" y1="402.50" x2="235.70" y2="402.50" stroke="#333" stroke-width="0.9" />
<rect x="230.00" y="408.93" width="7.60" height="56.82" fill="#a40a30" />
<line x1="244.40" y1="412.11" x2="244.40" y2="406.79" stroke="#333" stroke-width="0.9" />
<line x1="242.50" y1="406.79" x2="246.30" y2="406.79" stroke="#333" stroke-width="0.9" />
<rect x="240.60" y="411.61" width="7.60" height="54.14" fill="#a40a30" />
<line x1="254.90" y1="454.99" x2="254.90" y2="449.13" stroke="#333" stroke-width="0.9" />
<line x1="253.00" y1="449.13" x2="256.80" y2="449.13" stroke="#333" stroke-width="0.9" />
<rect x="251.10" y="454.49" width="7.60" height="11.26" fill="#a40a30" />
<text x="231.25" y="392.05" font-size="5.8" textLength="14.25" lengthAdjust="spacingAndGlyphs" fill="#2a2a2a" stroke="#2a2a2a" stroke-width="0.12"><tspan font-style="italic">P</tspan> 0.01</text>
<line x1="220.50" y1="398.25" x2="257.50" y2="398.25" stroke="#3a3a3a" stroke-width="1.2" />
<line x1="220.80" y1="397.15" x2="220.80" y2="399.35" stroke="#222" stroke-width="1.0" />
<line x1="257.20" y1="397.15" x2="257.20" y2="399.35" stroke="#222" stroke-width="1.0" />
<text x="223.30" y="480.10" font-size="6.4" text-anchor="middle" textLength="3.2" lengthAdjust="spacingAndGlyphs" fill="#2a2a2a" stroke="#2a2a2a" stroke-width="0.150" >0</text>
<text x="233.80" y="480.10" font-size="6.4" text-anchor="middle" textLength="3.2" lengthAdjust="spacingAndGlyphs" fill="#2a2a2a" stroke="#2a2a2a" stroke-width="0.150" >1</text>
<text x="244.40" y="480.10" font-size="6.4" text-anchor="middle" textLength="3.2" lengthAdjust="spacingAndGlyphs" fill="#2a2a2a" stroke="#2a2a2a" stroke-width="0.150" >3</text>
<text x="255.00" y="480.10" font-size="6.4" text-anchor="middle" textLength="3.2" lengthAdjust="spacingAndGlyphs" fill="#2a2a2a" stroke="#2a2a2a" stroke-width="0.150" >6</text>
<text x="218.10" y="491.30" font-size="8.0" textLength="37.5" lengthAdjust="spacingAndGlyphs" fill="#2a2a2a" stroke="#2a2a2a" stroke-width="0.150" >NSC12 [μM]</text>
<text transform="translate(185.50,434.20) rotate(-90)" x="0" y="0" font-size="7.4" text-anchor="middle" textLength="65.5" lengthAdjust="spacingAndGlyphs" fill="#2a2a2a" stroke="#2a2a2a" stroke-width="0.150" >BCWM.1 cell viability</text>
<text transform="translate(196.00,433.00) rotate(-90)" x="0" y="0" font-size="7.4" text-anchor="middle" textLength="39.1" lengthAdjust="spacingAndGlyphs" fill="#2a2a2a" stroke="#2a2a2a" stroke-width="0.150" >(% of control)</text>
<line x1="308.25" y1="391.20" x2="308.25" y2="471.90" stroke="#2a2a2a" stroke-width="1.5" />
<line x1="305.05" y1="465.75" x2="308.25" y2="465.75" stroke="#1a1a1a" stroke-width="0.9" />
<text x="301.85" y="468.05" font-size="6.4" text-anchor="end" textLength="3.13" lengthAdjust="spacingAndGlyphs" fill="#2a2a2a" stroke="#2a2a2a" stroke-width="0.150" >0</text>
<line x1="305.05" y1="453.55" x2="308.25" y2="453.55" stroke="#1a1a1a" stroke-width="0.9" />
<text x="301.85" y="455.85" font-size="6.4" text-anchor="end" textLength="6.26" lengthAdjust="spacingAndGlyphs" fill="#2a2a2a" stroke="#2a2a2a" stroke-width="0.150" >25</text>
<line x1="305.05" y1="441.35" x2="308.25" y2="441.35" stroke="#1a1a1a" stroke-width="0.9" />
<text x="301.85" y="443.65" font-size="6.4" text-anchor="end" textLength="6.26" lengthAdjust="spacingAndGlyphs" fill="#2a2a2a" stroke="#2a2a2a" stroke-width="0.150" >50</text>
<line x1="305.05" y1="429.15" x2="308.25" y2="429.15" stroke="#1a1a1a" stroke-width="0.9" />
<text x="301.85" y="431.45" font-size="6.4" text-anchor="end" textLength="6.26" lengthAdjust="spacingAndGlyphs" fill="#2a2a2a" stroke="#2a2a2a" stroke-width="0.150" >75</text>
<line x1="305.05" y1="416.95" x2="308.25" y2="416.95" stroke="#1a1a1a" stroke-width="0.9" />
<text x="301.85" y="419.25" font-size="6.4" text-anchor="end" textLength="9.4" lengthAdjust="spacingAndGlyphs" fill="#2a2a2a" stroke="#2a2a2a" stroke-width="0.150" >100</text>
<line x1="305.05" y1="404.75" x2="308.25" y2="404.75" stroke="#1a1a1a" stroke-width="0.9" />
<text x="301.85" y="407.05" font-size="6.4" text-anchor="end" textLength="9.4" lengthAdjust="spacingAndGlyphs" fill="#2a2a2a" stroke="#2a2a2a" stroke-width="0.150" >125</text>
<line x1="305.05" y1="392.55" x2="308.25" y2="392.55" stroke="#1a1a1a" stroke-width="0.9" />
<text x="301.85" y="394.85" font-size="6.4" text-anchor="end" textLength="9.4" lengthAdjust="spacingAndGlyphs" fill="#2a2a2a" stroke="#2a2a2a" stroke-width="0.150" >150</text>
<line x1="307.50" y1="471.30" x2="354.20" y2="471.30" stroke="#2a2a2a" stroke-width="1.5" />
<rect x="311.75" y="416.95" width="7.75" height="48.80" fill="#a40a30" />
<line x1="326.62" y1="415.01" x2="326.62" y2="411.09" stroke="#333" stroke-width="0.9" />
<line x1="324.73" y1="411.09" x2="328.52" y2="411.09" stroke="#333" stroke-width="0.9" />
<rect x="322.75" y="414.51" width="7.75" height="51.24" fill="#a40a30" />
<line x1="337.88" y1="409.15" x2="337.88" y2="399.87" stroke="#333" stroke-width="0.9" />
<line x1="335.98" y1="399.87" x2="339.77" y2="399.87" stroke="#333" stroke-width="0.9" />
<rect x="334.00" y="408.65" width="7.75" height="57.10" fill="#a40a30" />
<line x1="348.88" y1="451.12" x2="348.88" y2="442.81" stroke="#333" stroke-width="0.9" />
<line x1="346.98" y1="442.81" x2="350.77" y2="442.81" stroke="#333" stroke-width="0.9" />
<rect x="345.00" y="450.62" width="7.75" height="15.13" fill="#a40a30" />
<text x="325.50" y="390.05" font-size="5.8" textLength="14.50" lengthAdjust="spacingAndGlyphs" fill="#2a2a2a" stroke="#2a2a2a" stroke-width="0.12"><tspan font-style="italic">P</tspan> 0.05</text>
<line x1="313.00" y1="395.75" x2="351.25" y2="395.75" stroke="#3a3a3a" stroke-width="1.2" />
<line x1="313.30" y1="394.65" x2="313.30" y2="396.85" stroke="#222" stroke-width="1.0" />
<line x1="350.95" y1="394.65" x2="350.95" y2="396.85" stroke="#222" stroke-width="1.0" />
<text x="315.60" y="480.10" font-size="6.4" text-anchor="middle" textLength="3.2" lengthAdjust="spacingAndGlyphs" fill="#2a2a2a" stroke="#2a2a2a" stroke-width="0.150" >0</text>
<text x="326.60" y="480.10" font-size="6.4" text-anchor="middle" textLength="3.2" lengthAdjust="spacingAndGlyphs" fill="#2a2a2a" stroke="#2a2a2a" stroke-width="0.150" >1</text>
<text x="337.80" y="480.10" font-size="6.4" text-anchor="middle" textLength="3.2" lengthAdjust="spacingAndGlyphs" fill="#2a2a2a" stroke="#2a2a2a" stroke-width="0.150" >3</text>
<text x="348.80" y="480.10" font-size="6.4" text-anchor="middle" textLength="3.2" lengthAdjust="spacingAndGlyphs" fill="#2a2a2a" stroke="#2a2a2a" stroke-width="0.150" >6</text>
<text x="310.40" y="491.30" font-size="8.0" textLength="37.5" lengthAdjust="spacingAndGlyphs" fill="#2a2a2a" stroke="#2a2a2a" stroke-width="0.150" >NSC12 [μM]</text>
<text transform="translate(278.50,434.50) rotate(-90)" x="0" y="0" font-size="7.4" text-anchor="middle" textLength="65.0" lengthAdjust="spacingAndGlyphs" fill="#2a2a2a" stroke="#2a2a2a" stroke-width="0.150" >MWCL.1 cell viability</text>
<text transform="translate(289.00,433.00) rotate(-90)" x="0" y="0" font-size="7.4" text-anchor="middle" textLength="39.1" lengthAdjust="spacingAndGlyphs" fill="#2a2a2a" stroke="#2a2a2a" stroke-width="0.150" >(% of control)</text>
<text x="363.75" y="394.90" font-size="11.4" font-weight="bold" fill="#000" stroke="#000" stroke-width="0.35" textLength="9.10" lengthAdjust="spacingAndGlyphs">D</text>
<text x="410.20" y="407.50" font-size="8.4" textLength="33.8" lengthAdjust="spacingAndGlyphs" fill="#1a1a1a" >BCWM.1</text>
<text x="468.60" y="407.50" font-size="8.4" textLength="33.0" lengthAdjust="spacingAndGlyphs" fill="#1a1a1a" >MWCL.1</text>
<text x="363.00" y="418.60" font-size="6.0" textLength="35.5" lengthAdjust="spacingAndGlyphs" fill="#1a1a1a" >NSC12 [μM]</text>
<text x="407.70" y="418.60" font-size="6.4" text-anchor="middle" fill="#1a1a1a" >0</text>
<text x="420.00" y="418.60" font-size="6.4" text-anchor="middle" fill="#1a1a1a" >1</text>
<text x="431.70" y="418.60" font-size="6.4" text-anchor="middle" fill="#1a1a1a" >3</text>
<text x="444.00" y="418.60" font-size="6.4" text-anchor="middle" fill="#1a1a1a" >6</text>
<text x="465.50" y="418.60" font-size="6.4" text-anchor="middle" fill="#1a1a1a" >0</text>
<text x="478.50" y="418.60" font-size="6.4" text-anchor="middle" fill="#1a1a1a" >1</text>
<text x="491.70" y="418.60" font-size="6.4" text-anchor="middle" fill="#1a1a1a" >3</text>
<text x="504.60" y="418.60" font-size="6.4" text-anchor="middle" fill="#1a1a1a" >6</text>
<line x1="401.50" y1="423.30" x2="451.90" y2="423.30" stroke="#333" stroke-width="1.1" />
<line x1="458.70" y1="423.30" x2="511.90" y2="423.30" stroke="#333" stroke-width="1.1" />
<text x="398.90" y="434.10" font-size="6.4" text-anchor="end" fill="#1a1a1a" >PARP</text>
<text x="398.90" y="441.20" font-size="6.4" text-anchor="end" fill="#1a1a1a" >CF</text>
<text x="398.90" y="451.80" font-size="6.4" text-anchor="end" fill="#1a1a1a" >Caspase-8</text>
<text x="398.90" y="463.80" font-size="6.4" text-anchor="end" fill="#1a1a1a" >CF</text>
<text x="398.90" y="475.70" font-size="6.4" text-anchor="end" fill="#1a1a1a" >GAPDH</text>
<rect x="401.20" y="427.40" width="49.90" height="11.80" fill="#d6d6d6" />
<g filter="url(#bl)">
<rect x="401.70" y="430.55" width="11.30" height="2.50" rx="1.25" fill="#000000"/>
<rect x="414.70" y="430.55" width="10.10" height="2.50" rx="1.25" fill="#000000"/>
<rect x="426.30" y="430.40" width="9.80" height="2.80" rx="1.40" fill="#000000"/>
<rect x="438.40" y="430.80" width="10.40" height="2.00" rx="1.00" fill="#808080"/>
<rect x="401.70" y="436.00" width="11.30" height="1.80" rx="0.90" fill="#b6b6b6"/>
<rect x="414.70" y="436.00" width="10.10" height="1.80" rx="0.90" fill="#b6b6b6"/>
<rect x="426.30" y="436.00" width="9.80" height="1.80" rx="0.90" fill="#bcbcbc"/>
<rect x="438.40" y="435.70" width="10.40" height="2.40" rx="1.20" fill="#000000"/>
</g>
<defs><linearGradient id="bg1" x1="0" y1="0" x2="0" y2="1"><stop offset="0" stop-color="#b4b4b4"/><stop offset="0.5" stop-color="#c2c2c2"/><stop offset="1" stop-color="#c6c6c6"/></linearGradient></defs>
<rect x="401.20" y="445.30" width="50.40" height="18.50" fill="url(#bg1)" />
<g filter="url(#bl)">
<rect x="402.00" y="446.45" width="11.90" height="7.70" rx="1.50" fill="#000000"/>
<rect x="415.30" y="446.45" width="11.00" height="7.70" rx="1.50" fill="#000000"/>
<rect x="427.80" y="446.35" width="10.80" height="7.90" rx="1.50" fill="#000000"/>
<rect x="440.10" y="448.80" width="10.40" height="4.00" rx="1.50" fill="#000000"/>
<rect x="402.00" y="459.40" width="11.90" height="1.80" rx="0.90" fill="#929292"/>
<rect x="415.30" y="459.40" width="11.00" height="1.80" rx="0.90" fill="#979797"/>
<rect x="427.80" y="459.40" width="10.80" height="1.80" rx="0.90" fill="#9b9b9b"/>
<rect x="440.10" y="459.40" width="10.40" height="1.80" rx="0.90" fill="#3a3a3a"/>
<rect x="440.10" y="462.10" width="10.40" height="1.60" rx="0.80" fill="#575757"/>
</g>
<rect x="401.20" y="470.70" width="50.40" height="7.00" fill="#cccccc" />
<g filter="url(#bl)">
<rect x="401.70" y="472.80" width="11.30" height="2.40" rx="1.20" fill="#1f1f1f"/>
<rect x="414.70" y="472.80" width="10.10" height="2.40" rx="1.20" fill="#1f1f1f"/>
<rect x="426.30" y="472.80" width="9.80" height="2.40" rx="1.20" fill="#252525"/>
<rect x="438.40" y="473.10" width="10.40" height="1.80" rx="0.90" fill="#474747"/>
</g>
<rect x="457.90" y="426.30" width="54.20" height="12.50" fill="#e8e8e8" />
<g filter="url(#bl)">
<rect x="460.80" y="431.00" width="10.90" height="2.20" rx="1.10" fill="#000000"/>
<rect x="474.00" y="430.80" width="9.80" height="2.20" rx="1.10" fill="#0c0c0c"/>
<rect x="487.30" y="430.90" width="9.20" height="2.20" rx="1.10" fill="#0c0c0c"/>
<rect x="500.00" y="430.10" width="9.20" height="2.20" rx="1.10" fill="#aeaeae"/>
<rect x="460.80" y="434.65" width="10.90" height="1.30" rx="0.65" fill="#d1d1d1"/>
<rect x="474.00" y="434.65" width="9.80" height="1.30" rx="0.65" fill="#d1d1d1"/>
<rect x="487.30" y="434.55" width="9.20" height="1.50" rx="0.75" fill="#979797"/>
<rect x="500.00" y="434.20" width="9.20" height="2.20" rx="1.10" fill="#000000"/>
</g>
<defs><linearGradient id="bg2" x1="0" y1="0" x2="0" y2="1"><stop offset="0" stop-color="#909090"/><stop offset="0.35" stop-color="#b8b8b8"/><stop offset="0.6" stop-color="#cecece"/><stop offset="1" stop-color="#d2d2d2"/></linearGradient></defs>
<rect x="457.90" y="445.90" width="54.20" height="19.60" fill="url(#bg2)" />
<g filter="url(#bl)">
<rect x="459.00" y="449.40" width="11.60" height="5.20" rx="1.50" fill="#000000"/>
<rect x="472.30" y="450.00" width="10.70" height="4.00" rx="1.50" fill="#060606"/>
<rect x="485.20" y="449.50" width="11.30" height="5.00" rx="1.50" fill="#000000"/>
<rect x="498.60" y="449.50" width="11.20" height="5.00" rx="1.50" fill="#000000"/>
<rect x="459.00" y="460.50" width="11.60" height="2.00" rx="1.00" fill="#bcbcbc"/>
<rect x="472.30" y="460.50" width="10.70" height="2.00" rx="1.00" fill="#c2c2c2"/>
<rect x="485.20" y="460.50" width="11.30" height="2.00" rx="1.00" fill="#bcbcbc"/>
<rect x="498.60" y="460.50" width="11.20" height="2.00" rx="1.00" fill="#adadad"/>
</g>
<rect x="457.90" y="469.90" width="54.20" height="7.80" fill="#a4a4a4" />
<g filter="url(#bl)">
<rect x="459.00" y="472.05" width="11.60" height="3.50" rx="1.50" fill="#000000"/>
<rect x="472.30" y="472.05" width="10.70" height="3.50" rx="1.50" fill="#000000"/>
<rect x="485.20" y="472.05" width="11.30" height="3.50" rx="1.50" fill="#000000"/>
<rect x="498.60" y="472.05" width="11.20" height="3.50" rx="1.50" fill="#000000"/>
</g>
<text x="313.75" y="509.50" font-size="11.4" font-weight="bold" fill="#000" stroke="#000" stroke-width="0.35" textLength="9.20" lengthAdjust="spacingAndGlyphs">G</text>
<text x="360.50" y="572.20" font-size="8.4" textLength="33.4" lengthAdjust="spacingAndGlyphs" fill="#1a1a1a" >BCWM.1</text>
<text x="418.60" y="572.20" font-size="8.4" textLength="32.3" lengthAdjust="spacingAndGlyphs" fill="#1a1a1a" >MWCL.1</text>
<text x="313.80" y="582.60" font-size="6.0" textLength="34.7" lengthAdjust="spacingAndGlyphs" fill="#1a1a1a" >NSC12 [μM]</text>
<text x="358.80" y="582.50" font-size="6.2" text-anchor="middle" fill="#1a1a1a" >0</text>
<text x="371.50" y="582.50" font-size="6.2" text-anchor="middle" fill="#1a1a1a" >1</text>
<text x="384.20" y="582.50" font-size="6.2" text-anchor="middle" fill="#1a1a1a" >3</text>
<text x="396.50" y="582.50" font-size="6.2" text-anchor="middle" fill="#1a1a1a" >6</text>
<text x="415.40" y="582.50" font-size="6.2" text-anchor="middle" fill="#1a1a1a" >0</text>
<text x="427.50" y="582.50" font-size="6.2" text-anchor="middle" fill="#1a1a1a" >1</text>
<text x="441.00" y="582.50" font-size="6.2" text-anchor="middle" fill="#1a1a1a" >3</text>
<text x="454.40" y="582.50" font-size="6.2" text-anchor="middle" fill="#1a1a1a" >6</text>
<line x1="351.20" y1="586.40" x2="403.20" y2="586.40" stroke="#333" stroke-width="1.1" />
<line x1="409.20" y1="586.40" x2="462.50" y2="586.40" stroke="#333" stroke-width="1.1" />
<text x="348.20" y="596.00" font-size="6.2" text-anchor="end" fill="#1a1a1a" >H2AX</text>
<text x="348.20" y="608.00" font-size="6.2" text-anchor="end" fill="#1a1a1a" >NRF2</text>
<text x="348.20" y="621.00" font-size="6.2" text-anchor="end" fill="#1a1a1a" >GAPDH</text>
<defs><linearGradient id="bg3" x1="0" y1="0" x2="0" y2="1"><stop offset="0" stop-color="#c8c8c8"/><stop offset="1" stop-color="#d2d2d2"/></linearGradient></defs>
<rect x="350.90" y="589.60" width="52.50" height="8.40" fill="url(#bg3)" />
<g filter="url(#bl)">
<rect x="390.50" y="592.10" width="11.40" height="2.20" rx="1.10" fill="#343434"/>
</g>
<defs><linearGradient id="bg4" x1="0" y1="0" x2="0" y2="1"><stop offset="0" stop-color="#b0b0b0"/><stop offset="1" stop-color="#c8c8c8"/></linearGradient></defs>
<rect x="350.90" y="601.20" width="52.50" height="9.00" fill="url(#bg4)" />
<g filter="url(#bl)">
<rect x="352.50" y="605.20" width="11.00" height="2.20" rx="1.10" fill="#3b3b3b"/>
<rect x="365.00" y="605.20" width="11.00" height="2.20" rx="1.10" fill="#3b3b3b"/>
<rect x="377.50" y="605.10" width="11.00" height="2.40" rx="1.20" fill="#313131"/>
<rect x="390.50" y="605.50" width="11.40" height="1.60" rx="0.80" fill="#898989"/>
</g>
<defs><linearGradient id="bg5" x1="0" y1="0" x2="0" y2="1"><stop offset="0" stop-color="#bcbcbc"/><stop offset="1" stop-color="#cccccc"/></linearGradient></defs>
<rect x="350.90" y="614.40" width="52.50" height="11.60" fill="url(#bg5)" />
<g filter="url(#bl)">
<rect x="352.50" y="619.20" width="11.00" height="3.20" rx="1.50" fill="#000000"/>
<rect x="365.00" y="619.20" width="11.00" height="3.20" rx="1.50" fill="#060606"/>
<rect x="377.50" y="619.20" width="11.00" height="3.20" rx="1.50" fill="#060606"/>
<rect x="390.50" y="619.20" width="11.40" height="3.20" rx="1.50" fill="#0a0a0a"/>
</g>
<rect x="408.70" y="589.60" width="54.60" height="8.40" fill="#dcdcdc" />
<g filter="url(#bl)">
<rect x="449.50" y="592.00" width="12.00" height="2.20" rx="1.10" fill="#424242"/>
</g>
<rect x="408.70" y="601.20" width="54.60" height="9.00" fill="#c8c8c8" />
<g filter="url(#bl)">
<rect x="410.00" y="604.95" width="11.50" height="2.50" rx="1.25" fill="#0a0a0a"/>
<rect x="423.00" y="604.95" width="11.50" height="2.50" rx="1.25" fill="#141414"/>
<rect x="436.00" y="604.95" width="11.50" height="2.50" rx="1.25" fill="#181818"/>
<rect x="449.50" y="604.95" width="12.00" height="2.50" rx="1.25" fill="#3c3c3c"/>
</g>
<rect x="408.70" y="614.40" width="54.60" height="11.60" fill="#d0d0d0" />
<g filter="url(#bl)">
<rect x="410.00" y="619.25" width="11.50" height="3.30" rx="1.50" fill="#000000"/>
<rect x="423.00" y="619.25" width="11.50" height="3.30" rx="1.50" fill="#000000"/>
<rect x="436.00" y="619.25" width="11.50" height="3.30" rx="1.50" fill="#000000"/>
<rect x="449.50" y="619.25" width="12.00" height="3.30" rx="1.50" fill="#060606"/>
</g>
<text x="5.45" y="509.40" font-size="11.4" font-weight="bold" fill="#000" stroke="#000" stroke-width="0.35" textLength="7.40" lengthAdjust="spacingAndGlyphs">E</text>
<text x="87.10" y="503.35" font-size="4.6" text-anchor="middle" textLength="30.8" lengthAdjust="spacingAndGlyphs" fill="#333" stroke="#333" stroke-width="0.050" >Enrichment plot:</text>
<text x="41.90" y="508.55" font-size="4.6" textLength="91.2" lengthAdjust="spacingAndGlyphs" fill="#333" stroke="#333" stroke-width="0.050" >CHUANG_OXIDATIVE_STRESS_RESPONSE_UP</text>
<line x1="59.10" y1="538.30" x2="59.10" y2="546.80" stroke="#cfcfcf" stroke-width="0.5" />
<line x1="60.60" y1="538.30" x2="60.60" y2="546.80" stroke="#cfcfcf" stroke-width="0.5" />
<line x1="63.50" y1="538.30" x2="63.50" y2="546.80" stroke="#cfcfcf" stroke-width="0.5" />
<line x1="67.30" y1="538.30" x2="67.30" y2="546.80" stroke="#5a5a5a" stroke-width="0.45" />
<line x1="75.50" y1="538.30" x2="75.50" y2="546.80" stroke="#5a5a5a" stroke-width="0.45" />
<line x1="78.40" y1="538.30" x2="78.40" y2="546.80" stroke="#cfcfcf" stroke-width="0.5" />
<line x1="80.80" y1="538.30" x2="80.80" y2="546.80" stroke="#cfcfcf" stroke-width="0.5" />
<line x1="82.40" y1="538.30" x2="82.40" y2="546.80" stroke="#cfcfcf" stroke-width="0.5" />
<line x1="83.40" y1="538.30" x2="83.40" y2="546.80" stroke="#cfcfcf" stroke-width="0.5" />
<line x1="84.40" y1="538.30" x2="84.40" y2="546.80" stroke="#cfcfcf" stroke-width="0.5" />
<line x1="86.50" y1="538.30" x2="86.50" y2="546.80" stroke="#cfcfcf" stroke-width="0.5" />
<line x1="89.00" y1="538.30" x2="89.00" y2="546.80" stroke="#cfcfcf" stroke-width="0.5" />
<line x1="97.60" y1="538.30" x2="97.60" y2="546.80" stroke="#5a5a5a" stroke-width="0.45" />
<line x1="101.30" y1="538.30" x2="101.30" y2="546.80" stroke="#5a5a5a" stroke-width="0.45" />
<line x1="103.00" y1="538.30" x2="103.00" y2="546.80" stroke="#cfcfcf" stroke-width="0.5" />
<line x1="105.00" y1="538.30" x2="105.00" y2="546.80" stroke="#cfcfcf" stroke-width="0.5" />
<line x1="106.40" y1="538.30" x2="106.40" y2="546.80" stroke="#5a5a5a" stroke-width="0.45" />
<line x1="108.40" y1="538.30" x2="108.40" y2="546.80" stroke="#5a5a5a" stroke-width="0.45" />
<line x1="110.50" y1="538.30" x2="110.50" y2="546.80" stroke="#cfcfcf" stroke-width="0.5" />
<line x1="112.50" y1="538.30" x2="112.50" y2="546.80" stroke="#cfcfcf" stroke-width="0.5" />
<line x1="114.00" y1="538.30" x2="114.00" y2="546.80" stroke="#cfcfcf" stroke-width="0.5" />
<rect x="82.00" y="538.30" width="3.20" height="8.50" fill="#d8d8d8" />
<rect x="57.20" y="546.80" width="12.50" height="2.00" fill="#d23838" />
<rect x="69.70" y="546.80" width="5.30" height="2.00" fill="#dca0c4" />
<rect x="75.00" y="546.80" width="10.10" height="2.00" fill="#bcbce6" />
<rect x="85.10" y="546.80" width="7.70" height="2.00" fill="#9a9ad4" />
<rect x="92.80" y="546.80" width="5.20" height="2.00" fill="#4a48aa" />
<rect x="98.00" y="546.80" width="17.20" height="2.00" fill="#262080" />
<polygon points="57.2,555.3 60.0,556.0 66.0,556.4 80.0,556.8 88.0,557.0 100.0,558.4 108.0,560.5 113.0,563.0 115.2,565.2 115.2,557.0 57.2,557.0" fill="#c2c2c2"/>
<line x1="57.20" y1="557.00" x2="115.20" y2="557.00" stroke="#8a8a8a" stroke-width="0.4" />
<text x="58.20" y="551.00" font-size="2.4" textLength="12.5" lengthAdjust="spacingAndGlyphs" fill="#d84040" stroke="#d84040" stroke-width="0.029" >'na_pos' (positively</text>
<text x="58.20" y="553.90" font-size="2.4" textLength="20.2" lengthAdjust="spacingAndGlyphs" fill="#d84040" stroke="#d84040" stroke-width="0.029" >positively correlated</text>
<text x="67.30" y="557.80" font-size="2.4" textLength="16.8" lengthAdjust="spacingAndGlyphs" fill="#444" stroke="#444" stroke-width="0.029" >Zero cross at 10128</text>
<text x="85.10" y="562.00" font-size="2.4" textLength="12.5" lengthAdjust="spacingAndGlyphs" fill="#5050c8" stroke="#5050c8" stroke-width="0.029" >'na_neg' (negatively</text>
<text x="85.10" y="564.60" font-size="2.4" textLength="20.5" lengthAdjust="spacingAndGlyphs" fill="#5050c8" stroke="#5050c8" stroke-width="0.029" >negatively correlated</text>
<polyline points="57.3,513.7 61.0,514.6 65.0,516.2 70.0,519.0 74.0,521.2 78.5,523.8 84.0,526.6 90.0,529.6 94.0,532.8 96.7,535.6 98.0,535.8 99.6,534.2 101.0,535.4 102.5,533.6 103.3,533.8 104.6,535.2 105.6,535.4 107.3,534.2 108.4,534.6 109.2,532.4 110.2,531.4 111.2,531.6 112.0,532.6 113.0,531.8 114.0,530.4 114.6,530.6 115.2,530.0" fill="none" stroke="#7dc04a" stroke-width="0.75"/>
<text x="98.30" y="520.20" font-size="4.8" textLength="16.2" lengthAdjust="spacingAndGlyphs" fill="#222" stroke="#222" stroke-width="0.058" >P &lt;0.001</text>
<text x="98.30" y="524.90" font-size="4.8" textLength="16.2" lengthAdjust="spacingAndGlyphs" fill="#222" stroke="#222" stroke-width="0.058" >FDR 0.09</text>
<rect x="56.90" y="512.00" width="60.70" height="54.10" fill="none" stroke="#111" stroke-width="1.0"/>
<line x1="54.70" y1="513.50" x2="56.90" y2="513.50" stroke="#222" stroke-width="0.6" />
<line x1="54.70" y1="516.83" x2="56.90" y2="516.83" stroke="#222" stroke-width="0.6" />
<line x1="54.70" y1="520.16" x2="56.90" y2="520.16" stroke="#222" stroke-width="0.6" />
<line x1="54.70" y1="523.49" x2="56.90" y2="523.49" stroke="#222" stroke-width="0.6" />
<line x1="54.70" y1="526.81" x2="56.90" y2="526.81" stroke="#222" stroke-width="0.6" />
<line x1="54.70" y1="530.14" x2="56.90" y2="530.14" stroke="#222" stroke-width="0.6" />
<line x1="54.70" y1="533.47" x2="56.90" y2="533.47" stroke="#222" stroke-width="0.6" />
<line x1="54.70" y1="536.80" x2="56.90" y2="536.80" stroke="#222" stroke-width="0.6" />
<text transform="translate(48.2,525.1) rotate(-90)" font-size="3.2" text-anchor="middle" fill="#666" textLength="25.3" lengthAdjust="spacingAndGlyphs">0.30 0.25 0.20 0.15 0.10 0.05 0.00 -0.05</text>
<text transform="translate(51.4,525.1) rotate(-90)" font-size="2.6" text-anchor="middle" fill="#888" textLength="22.3" lengthAdjust="spacingAndGlyphs">- - - - - - - - - - - -</text>
<text transform="translate(54.9,557.5) rotate(-90)" font-size="3.2" text-anchor="middle" fill="#555" textLength="14.3" lengthAdjust="spacingAndGlyphs">-0.4 -0.2 0.0 0.2 0.4</text>
<line x1="56.50" y1="566.10" x2="56.50" y2="567.70" stroke="#111" stroke-width="0.8" />
<line x1="70.90" y1="566.10" x2="70.90" y2="567.70" stroke="#111" stroke-width="0.8" />
<line x1="85.30" y1="566.10" x2="85.30" y2="567.70" stroke="#111" stroke-width="0.8" />
<line x1="99.80" y1="566.10" x2="99.80" y2="567.70" stroke="#111" stroke-width="0.8" />
<line x1="114.20" y1="566.10" x2="114.20" y2="567.70" stroke="#111" stroke-width="0.8" />
<text x="56.50" y="575.60" font-size="5.0" text-anchor="middle" textLength="2.5" lengthAdjust="spacingAndGlyphs" fill="#222" stroke="#222" stroke-width="0.060" >0</text>
<text x="71.30" y="575.60" font-size="5.0" text-anchor="middle" textLength="11.26" lengthAdjust="spacingAndGlyphs" fill="#222" stroke="#222" stroke-width="0.060" >5,000</text>
<text x="85.70" y="575.60" font-size="5.0" text-anchor="middle" textLength="13.76" lengthAdjust="spacingAndGlyphs" fill="#222" stroke="#222" stroke-width="0.060" >10,000</text>
<text x="100.20" y="575.60" font-size="5.0" text-anchor="middle" textLength="13.76" lengthAdjust="spacingAndGlyphs" fill="#222" stroke="#222" stroke-width="0.060" >15,000</text>
<text x="114.60" y="575.60" font-size="5.0" text-anchor="middle" textLength="13.76" lengthAdjust="spacingAndGlyphs" fill="#222" stroke="#222" stroke-width="0.060" >20,000</text>
<text x="60.80" y="584.40" font-size="6.7" textLength="52.7" lengthAdjust="spacingAndGlyphs" fill="#222" stroke="#222" stroke-width="0.150" >Rank in ordered dataset</text>
<text transform="translate(21.30,539.00) rotate(-90)" x="0" y="0" font-size="8.8" text-anchor="middle" textLength="32.7" lengthAdjust="spacingAndGlyphs" fill="#111" stroke="#111" stroke-width="0.050" >BCWM.1</text>
<text transform="translate(30.90,523.50) rotate(-90)" x="0" y="0" font-size="6.0" text-anchor="middle" textLength="25.2" lengthAdjust="spacingAndGlyphs" fill="#2a2a2a" stroke="#2a2a2a" stroke-width="0.150" >Enrichment</text>
<text transform="translate(39.00,523.50) rotate(-90)" x="0" y="0" font-size="6.0" text-anchor="middle" textLength="22.0" lengthAdjust="spacingAndGlyphs" fill="#2a2a2a" stroke="#2a2a2a" stroke-width="0.150" >score (ES)</text>
<text transform="translate(37.90,558.00) rotate(-90)" x="0" y="0" font-size="6.0" text-anchor="middle" textLength="39.7" lengthAdjust="spacingAndGlyphs" fill="#2a2a2a" stroke="#2a2a2a" stroke-width="0.150" >Ranked list metric</text>
<text transform="translate(45.40,557.90) rotate(-90)" x="0" y="0" font-size="6.0" text-anchor="middle" textLength="31.7" lengthAdjust="spacingAndGlyphs" fill="#2a2a2a" stroke="#2a2a2a" stroke-width="0.150" >(signal2Noise)</text>
<text x="87.10" y="599.95" font-size="4.6" text-anchor="middle" textLength="30.8" lengthAdjust="spacingAndGlyphs" fill="#333" stroke="#333" stroke-width="0.050" >Enrichment plot:</text>
<text x="41.90" y="605.15" font-size="4.6" textLength="91.2" lengthAdjust="spacingAndGlyphs" fill="#333" stroke="#333" stroke-width="0.050" >CHUANG_OXIDATIVE_STRESS_RESPONSE_UP</text>
<line x1="57.50" y1="635.30" x2="57.50" y2="645.00" stroke="#cfcfcf" stroke-width="0.5" />
<line x1="59.00" y1="635.30" x2="59.00" y2="645.00" stroke="#cfcfcf" stroke-width="0.5" />
<line x1="62.00" y1="635.30" x2="62.00" y2="645.00" stroke="#cfcfcf" stroke-width="0.5" />
<line x1="63.50" y1="635.30" x2="63.50" y2="645.00" stroke="#cfcfcf" stroke-width="0.5" />
<line x1="66.80" y1="635.30" x2="66.80" y2="645.00" stroke="#5a5a5a" stroke-width="0.45" />
<line x1="72.00" y1="635.30" x2="72.00" y2="645.00" stroke="#cfcfcf" stroke-width="0.5" />
<line x1="80.20" y1="635.30" x2="80.20" y2="645.00" stroke="#5a5a5a" stroke-width="0.45" />
<line x1="92.00" y1="635.30" x2="92.00" y2="645.00" stroke="#cfcfcf" stroke-width="0.5" />
<line x1="93.50" y1="635.30" x2="93.50" y2="645.00" stroke="#cfcfcf" stroke-width="0.5" />
<line x1="95.00" y1="635.30" x2="95.00" y2="645.00" stroke="#cfcfcf" stroke-width="0.5" />
<line x1="96.60" y1="635.30" x2="96.60" y2="645.00" stroke="#5a5a5a" stroke-width="0.45" />
<line x1="98.20" y1="635.30" x2="98.20" y2="645.00" stroke="#cfcfcf" stroke-width="0.5" />
<line x1="100.00" y1="635.30" x2="100.00" y2="645.00" stroke="#5a5a5a" stroke-width="0.45" />
<line x1="103.50" y1="635.30" x2="103.50" y2="645.00" stroke="#cfcfcf" stroke-width="0.5" />
<line x1="105.50" y1="635.30" x2="105.50" y2="645.00" stroke="#5a5a5a" stroke-width="0.45" />
<line x1="108.80" y1="635.30" x2="108.80" y2="645.00" stroke="#5a5a5a" stroke-width="0.45" />
<line x1="111.00" y1="635.30" x2="111.00" y2="645.00" stroke="#cfcfcf" stroke-width="0.5" />
<line x1="113.00" y1="635.30" x2="113.00" y2="645.00" stroke="#cfcfcf" stroke-width="0.5" />
<rect x="61.00" y="635.30" width="3.50" height="9.70" fill="#d8d8d8" />
<rect x="93.00" y="635.30" width="3.00" height="9.70" fill="#d8d8d8" />
<rect x="55.30" y="645.00" width="17.10" height="1.90" fill="#d23838" />
<rect x="72.40" y="645.00" width="7.20" height="1.90" fill="#dca0c4" />
<rect x="79.60" y="645.00" width="16.60" height="1.90" fill="#bcbce6" />
<rect x="96.20" y="645.00" width="5.70" height="1.90" fill="#8a8acc" />
<rect x="101.90" y="645.00" width="6.10" height="1.90" fill="#3c3aa0" />
<rect x="108.00" y="645.00" width="8.60" height="1.90" fill="#1e1a7c" />
<polygon points="55.3,653.6 58.0,654.4 64.0,655.0 78.0,656.2 90.0,657.0 100.0,658.6 108.0,660.2 113.0,662.4 116.6,664.2 116.6,657.0 55.3,657.0" fill="#c2c2c2"/>
<line x1="55.30" y1="657.00" x2="116.60" y2="657.00" stroke="#8a8a8a" stroke-width="0.4" />
<text x="57.00" y="648.40" font-size="2.4" textLength="12.5" lengthAdjust="spacingAndGlyphs" fill="#d84040" stroke="#d84040" stroke-width="0.029" >'na_pos' (positively</text>
<text x="57.00" y="651.30" font-size="2.4" textLength="20.2" lengthAdjust="spacingAndGlyphs" fill="#d84040" stroke="#d84040" stroke-width="0.029" >positively correlated</text>
<text x="71.60" y="657.80" font-size="2.4" textLength="16.8" lengthAdjust="spacingAndGlyphs" fill="#444" stroke="#444" stroke-width="0.029" >Zero cross at 10128</text>
<text x="90.40" y="660.20" font-size="2.4" textLength="12.5" lengthAdjust="spacingAndGlyphs" fill="#5050c8" stroke="#5050c8" stroke-width="0.029" >'na_neg' (negatively</text>
<text x="90.40" y="662.80" font-size="2.4" textLength="20.5" lengthAdjust="spacingAndGlyphs" fill="#5050c8" stroke="#5050c8" stroke-width="0.029" >negatively correlated</text>
<polyline points="55.8,609.4 60.0,610.6 66.9,614.2 72.0,616.8 78.5,620.0 85.0,623.7 91.9,627.7 95.0,629.2 97.7,630.0 100.5,630.3 103.5,630.6 104.5,630.2 105.4,631.5 106.5,631.0 107.4,630.0 108.3,630.6 109.3,632.0 110.2,632.5 111.0,631.4 112.0,632.3 114.0,633.8 116.5,635.4" fill="none" stroke="#7dc04a" stroke-width="0.75"/>
<text x="98.30" y="616.00" font-size="4.8" textLength="16.2" lengthAdjust="spacingAndGlyphs" fill="#222" stroke="#222" stroke-width="0.058" >P &lt;0.001</text>
<text x="98.30" y="620.70" font-size="4.8" textLength="16.2" lengthAdjust="spacingAndGlyphs" fill="#222" stroke="#222" stroke-width="0.058" >FDR 0.10</text>
<rect x="55.00" y="608.70" width="62.80" height="56.90" fill="none" stroke="#111" stroke-width="1.0"/>
<line x1="52.80" y1="610.20" x2="55.00" y2="610.20" stroke="#222" stroke-width="0.6" />
<line x1="52.80" y1="613.15" x2="55.00" y2="613.15" stroke="#222" stroke-width="0.6" />
<line x1="52.80" y1="616.10" x2="55.00" y2="616.10" stroke="#222" stroke-width="0.6" />
<line x1="52.80" y1="619.05" x2="55.00" y2="619.05" stroke="#222" stroke-width="0.6" />
<line x1="52.80" y1="622.00" x2="55.00" y2="622.00" stroke="#222" stroke-width="0.6" />
<line x1="52.80" y1="624.95" x2="55.00" y2="624.95" stroke="#222" stroke-width="0.6" />
<line x1="52.80" y1="627.90" x2="55.00" y2="627.90" stroke="#222" stroke-width="0.6" />
<line x1="52.80" y1="630.85" x2="55.00" y2="630.85" stroke="#222" stroke-width="0.6" />
<line x1="52.80" y1="633.80" x2="55.00" y2="633.80" stroke="#222" stroke-width="0.6" />
<text transform="translate(46.2,622.0) rotate(-90)" font-size="3.2" text-anchor="middle" fill="#666" textLength="25.6" lengthAdjust="spacingAndGlyphs">0.30 0.25 0.20 0.15 0.10 0.05 0.00 -0.05</text>
<text transform="translate(49.4,622.0) rotate(-90)" font-size="2.6" text-anchor="middle" fill="#888" textLength="22.6" lengthAdjust="spacingAndGlyphs">- - - - - - - - - - - -</text>
<text transform="translate(53.0,656.2) rotate(-90)" font-size="3.2" text-anchor="middle" fill="#555" textLength="15.7" lengthAdjust="spacingAndGlyphs">-0.4 -0.2 0.0 0.2 0.4</text>
<line x1="55.00" y1="665.60" x2="55.00" y2="667.20" stroke="#111" stroke-width="0.8" />
<line x1="70.20" y1="665.60" x2="70.20" y2="667.20" stroke="#111" stroke-width="0.8" />
<line x1="85.30" y1="665.60" x2="85.30" y2="667.20" stroke="#111" stroke-width="0.8" />
<line x1="100.50" y1="665.60" x2="100.50" y2="667.20" stroke="#111" stroke-width="0.8" />
<line x1="115.60" y1="665.60" x2="115.60" y2="667.20" stroke="#111" stroke-width="0.8" />
<text x="55.00" y="675.00" font-size="5.0" text-anchor="middle" textLength="2.5" lengthAdjust="spacingAndGlyphs" fill="#222" stroke="#222" stroke-width="0.060" >0</text>
<text x="70.60" y="675.00" font-size="5.0" text-anchor="middle" textLength="11.26" lengthAdjust="spacingAndGlyphs" fill="#222" stroke="#222" stroke-width="0.060" >5,000</text>
<text x="85.70" y="675.00" font-size="5.0" text-anchor="middle" textLength="13.76" lengthAdjust="spacingAndGlyphs" fill="#222" stroke="#222" stroke-width="0.060" >10,000</text>
<text x="100.90" y="675.00" font-size="5.0" text-anchor="middle" textLength="13.76" lengthAdjust="spacingAndGlyphs" fill="#222" stroke="#222" stroke-width="0.060" >15,000</text>
<text x="116.00" y="675.00" font-size="5.0" text-anchor="middle" textLength="13.76" lengthAdjust="spacingAndGlyphs" fill="#222" stroke="#222" stroke-width="0.060" >20,000</text>
<text x="60.80" y="683.60" font-size="6.7" textLength="52.7" lengthAdjust="spacingAndGlyphs" fill="#222" stroke="#222" stroke-width="0.150" >Rank in ordered dataset</text>
<text transform="translate(18.90,637.30) rotate(-90)" x="0" y="0" font-size="8.8" text-anchor="middle" textLength="32.0" lengthAdjust="spacingAndGlyphs" fill="#111" stroke="#111" stroke-width="0.050" >MWCL.1</text>
<text transform="translate(30.90,622.60) rotate(-90)" x="0" y="0" font-size="6.0" text-anchor="middle" textLength="25.8" lengthAdjust="spacingAndGlyphs" fill="#2a2a2a" stroke="#2a2a2a" stroke-width="0.150" >Enrichment</text>
<text transform="translate(38.70,623.00) rotate(-90)" x="0" y="0" font-size="6.0" text-anchor="middle" textLength="23.0" lengthAdjust="spacingAndGlyphs" fill="#2a2a2a" stroke="#2a2a2a" stroke-width="0.150" >score (ES)</text>
<text transform="translate(28.60,655.30) rotate(-90)" x="0" y="0" font-size="6.0" text-anchor="middle" textLength="24.6" lengthAdjust="spacingAndGlyphs" fill="#2a2a2a" stroke="#2a2a2a" stroke-width="0.150" >Ranked list</text>
<text transform="translate(36.10,655.30) rotate(-90)" x="0" y="0" font-size="6.0" text-anchor="middle" textLength="14.3" lengthAdjust="spacingAndGlyphs" fill="#2a2a2a" stroke="#2a2a2a" stroke-width="0.150" >metric</text>
<text transform="translate(42.90,655.60) rotate(-90)" x="0" y="0" font-size="6.0" text-anchor="middle" textLength="33.2" lengthAdjust="spacingAndGlyphs" fill="#2a2a2a" stroke="#2a2a2a" stroke-width="0.150" >(signal2Noise)</text>
<line x1="20.30" y1="591.70" x2="23.40" y2="591.70" stroke="#7dc04a" stroke-width="1.0" />
<text x="25.80" y="593.50" font-size="5.0" textLength="35.4" lengthAdjust="spacingAndGlyphs" fill="#444" stroke="#444" stroke-width="0.040" >Enrichment profile</text>
<line x1="65.00" y1="591.30" x2="67.00" y2="591.30" stroke="#888" stroke-width="0.5" />
<line x1="65.00" y1="592.10" x2="67.00" y2="592.10" stroke="#888" stroke-width="0.5" />
<text x="69.80" y="593.50" font-size="5.0" textLength="8.2" lengthAdjust="spacingAndGlyphs" fill="#444" stroke="#444" stroke-width="0.040" >Hits</text>
<line x1="81.10" y1="591.40" x2="83.00" y2="591.40" stroke="#aaa" stroke-width="0.5" />
<line x1="85.00" y1="592.50" x2="87.10" y2="592.50" stroke="#aaa" stroke-width="0.5" />
<text x="91.40" y="593.50" font-size="5.0" textLength="41.4" lengthAdjust="spacingAndGlyphs" fill="#444" stroke="#444" stroke-width="0.040" >Ranking metric scores</text>
<line x1="20.30" y1="691.20" x2="23.40" y2="691.20" stroke="#7dc04a" stroke-width="1.0" />
<text x="25.80" y="693.00" font-size="5.0" textLength="35.4" lengthAdjust="spacingAndGlyphs" fill="#444" stroke="#444" stroke-width="0.040" >Enrichment profile</text>
<line x1="65.00" y1="690.80" x2="67.00" y2="690.80" stroke="#888" stroke-width="0.5" />
<line x1="65.00" y1="691.60" x2="67.00" y2="691.60" stroke="#888" stroke-width="0.5" />
<text x="69.80" y="693.00" font-size="5.0" textLength="8.2" lengthAdjust="spacingAndGlyphs" fill="#444" stroke="#444" stroke-width="0.040" >Hits</text>
<line x1="81.10" y1="690.90" x2="83.00" y2="690.90" stroke="#aaa" stroke-width="0.5" />
<line x1="85.00" y1="692.00" x2="87.10" y2="692.00" stroke="#aaa" stroke-width="0.5" />
<text x="91.40" y="693.00" font-size="5.0" textLength="41.4" lengthAdjust="spacingAndGlyphs" fill="#444" stroke="#444" stroke-width="0.040" >Ranking metric scores</text>
<text x="147.85" y="509.20" font-size="11.4" font-weight="bold" fill="#000" stroke="#000" stroke-width="0.35" textLength="6.90" lengthAdjust="spacingAndGlyphs">F</text>
<line x1="173.25" y1="546.20" x2="173.25" y2="629.70" stroke="#2a2a2a" stroke-width="1.5" />
<line x1="170.05" y1="623.80" x2="173.25" y2="623.80" stroke="#1a1a1a" stroke-width="0.9" />
<text x="166.85" y="626.10" font-size="6.4" text-anchor="end" textLength="3.13" lengthAdjust="spacingAndGlyphs" fill="#2a2a2a" stroke="#2a2a2a" stroke-width="0.150" >0</text>
<line x1="170.05" y1="605.35" x2="173.25" y2="605.35" stroke="#1a1a1a" stroke-width="0.9" />
<text x="166.85" y="607.65" font-size="6.4" text-anchor="end" textLength="6.26" lengthAdjust="spacingAndGlyphs" fill="#2a2a2a" stroke="#2a2a2a" stroke-width="0.150" >20</text>
<line x1="170.05" y1="586.90" x2="173.25" y2="586.90" stroke="#1a1a1a" stroke-width="0.9" />
<text x="166.85" y="589.20" font-size="6.4" text-anchor="end" textLength="6.26" lengthAdjust="spacingAndGlyphs" fill="#2a2a2a" stroke="#2a2a2a" stroke-width="0.150" >40</text>
<line x1="170.05" y1="568.45" x2="173.25" y2="568.45" stroke="#1a1a1a" stroke-width="0.9" />
<text x="166.85" y="570.75" font-size="6.4" text-anchor="end" textLength="6.26" lengthAdjust="spacingAndGlyphs" fill="#2a2a2a" stroke="#2a2a2a" stroke-width="0.150" >60</text>
<line x1="170.05" y1="550.00" x2="173.25" y2="550.00" stroke="#1a1a1a" stroke-width="0.9" />
<text x="166.85" y="552.30" font-size="6.4" text-anchor="end" textLength="6.26" lengthAdjust="spacingAndGlyphs" fill="#2a2a2a" stroke="#2a2a2a" stroke-width="0.150" >80</text>
<line x1="172.50" y1="629.10" x2="213.75" y2="629.10" stroke="#2a2a2a" stroke-width="1.5" />
<line x1="179.97" y1="605.85" x2="179.97" y2="599.81" stroke="#333" stroke-width="0.9" />
<line x1="178.07" y1="599.81" x2="181.88" y2="599.81" stroke="#333" stroke-width="0.9" />
<rect x="176.25" y="605.35" width="7.45" height="18.45" fill="#a40a30" />
<line x1="189.92" y1="607.69" x2="189.92" y2="601.66" stroke="#333" stroke-width="0.9" />
<line x1="188.02" y1="601.66" x2="191.82" y2="601.66" stroke="#333" stroke-width="0.9" />
<rect x="186.20" y="607.19" width="7.45" height="16.61" fill="#a40a30" />
<line x1="199.32" y1="601.24" x2="199.32" y2="590.59" stroke="#333" stroke-width="0.9" />
<line x1="197.42" y1="590.59" x2="201.22" y2="590.59" stroke="#333" stroke-width="0.9" />
<rect x="195.60" y="600.74" width="7.45" height="23.06" fill="#a40a30" />
<line x1="208.82" y1="584.63" x2="208.82" y2="578.60" stroke="#333" stroke-width="0.9" />
<line x1="206.92" y1="578.60" x2="210.72" y2="578.60" stroke="#333" stroke-width="0.9" />
<rect x="205.10" y="584.13" width="7.45" height="39.67" fill="#a40a30" />
<text x="186.75" y="553.30" font-size="5.8" textLength="14.50" lengthAdjust="spacingAndGlyphs" fill="#2a2a2a" stroke="#2a2a2a" stroke-width="0.12"><tspan font-style="italic">P</tspan> 0.04</text>
<line x1="178.75" y1="559.25" x2="209.25" y2="559.25" stroke="#3a3a3a" stroke-width="1.2" />
<line x1="179.05" y1="558.15" x2="179.05" y2="560.35" stroke="#222" stroke-width="1.0" />
<line x1="208.95" y1="558.15" x2="208.95" y2="560.35" stroke="#222" stroke-width="1.0" />
<text x="180.00" y="638.05" font-size="6.4" text-anchor="middle" textLength="3.2" lengthAdjust="spacingAndGlyphs" fill="#2a2a2a" stroke="#2a2a2a" stroke-width="0.150" >0</text>
<text x="189.60" y="638.05" font-size="6.4" text-anchor="middle" textLength="3.2" lengthAdjust="spacingAndGlyphs" fill="#2a2a2a" stroke="#2a2a2a" stroke-width="0.150" >1</text>
<text x="199.30" y="638.05" font-size="6.4" text-anchor="middle" textLength="3.2" lengthAdjust="spacingAndGlyphs" fill="#2a2a2a" stroke="#2a2a2a" stroke-width="0.150" >3</text>
<text x="208.40" y="638.05" font-size="6.4" text-anchor="middle" textLength="3.2" lengthAdjust="spacingAndGlyphs" fill="#2a2a2a" stroke="#2a2a2a" stroke-width="0.150" >6</text>
<text x="175.30" y="649.80" font-size="8.0" textLength="36.79999999999998" lengthAdjust="spacingAndGlyphs" fill="#2a2a2a" stroke="#2a2a2a" stroke-width="0.150" >NSC12 [μM]</text>
<text transform="translate(154.80,587.60) rotate(-90)" x="0" y="0" font-size="7.4" text-anchor="middle" textLength="94.6" lengthAdjust="spacingAndGlyphs" fill="#2a2a2a" stroke="#2a2a2a" stroke-width="0.150" >BCWM.1– mitosox pos. cells (%)</text>
<line x1="255.00" y1="548.30" x2="255.00" y2="630.00" stroke="#2a2a2a" stroke-width="1.5" />
<line x1="251.80" y1="623.80" x2="255.00" y2="623.80" stroke="#1a1a1a" stroke-width="0.9" />
<text x="248.60" y="626.10" font-size="6.4" text-anchor="end" textLength="3.13" lengthAdjust="spacingAndGlyphs" fill="#2a2a2a" stroke="#2a2a2a" stroke-width="0.150" >0</text>
<line x1="251.80" y1="605.55" x2="255.00" y2="605.55" stroke="#1a1a1a" stroke-width="0.9" />
<text x="248.60" y="607.85" font-size="6.4" text-anchor="end" textLength="6.26" lengthAdjust="spacingAndGlyphs" fill="#2a2a2a" stroke="#2a2a2a" stroke-width="0.150" >20</text>
<line x1="251.80" y1="587.30" x2="255.00" y2="587.30" stroke="#1a1a1a" stroke-width="0.9" />
<text x="248.60" y="589.60" font-size="6.4" text-anchor="end" textLength="6.26" lengthAdjust="spacingAndGlyphs" fill="#2a2a2a" stroke="#2a2a2a" stroke-width="0.150" >40</text>
<line x1="251.80" y1="569.05" x2="255.00" y2="569.05" stroke="#1a1a1a" stroke-width="0.9" />
<text x="248.60" y="571.35" font-size="6.4" text-anchor="end" textLength="6.26" lengthAdjust="spacingAndGlyphs" fill="#2a2a2a" stroke="#2a2a2a" stroke-width="0.150" >60</text>
<line x1="251.80" y1="550.80" x2="255.00" y2="550.80" stroke="#1a1a1a" stroke-width="0.9" />
<text x="248.60" y="553.10" font-size="6.4" text-anchor="end" textLength="6.26" lengthAdjust="spacingAndGlyphs" fill="#2a2a2a" stroke="#2a2a2a" stroke-width="0.150" >80</text>
<line x1="254.25" y1="629.40" x2="295.00" y2="629.40" stroke="#2a2a2a" stroke-width="1.5" />
<line x1="261.80" y1="602.40" x2="261.80" y2="600.07" stroke="#333" stroke-width="0.9" />
<line x1="259.90" y1="600.07" x2="263.70" y2="600.07" stroke="#333" stroke-width="0.9" />
<rect x="257.90" y="601.90" width="7.80" height="21.90" fill="#a40a30" />
<line x1="271.40" y1="602.40" x2="271.40" y2="600.99" stroke="#333" stroke-width="0.9" />
<line x1="269.50" y1="600.99" x2="273.30" y2="600.99" stroke="#333" stroke-width="0.9" />
<rect x="267.50" y="601.90" width="7.80" height="21.90" fill="#a40a30" />
<line x1="281.00" y1="596.92" x2="281.00" y2="595.51" stroke="#333" stroke-width="0.9" />
<line x1="279.10" y1="595.51" x2="282.90" y2="595.51" stroke="#333" stroke-width="0.9" />
<rect x="277.10" y="596.42" width="7.80" height="27.38" fill="#a40a30" />
<line x1="290.60" y1="562.25" x2="290.60" y2="557.19" stroke="#333" stroke-width="0.9" />
<line x1="288.70" y1="557.19" x2="292.50" y2="557.19" stroke="#333" stroke-width="0.9" />
<rect x="286.70" y="561.75" width="7.80" height="62.05" fill="#a40a30" />
<text x="267.10" y="548.20" font-size="5.8" textLength="15.00" lengthAdjust="spacingAndGlyphs" fill="#2a2a2a" stroke="#2a2a2a" stroke-width="0.12"><tspan font-style="italic">P</tspan> 0.03</text>
<line x1="259.80" y1="554.40" x2="289.60" y2="554.40" stroke="#3a3a3a" stroke-width="1.2" />
<line x1="260.10" y1="553.30" x2="260.10" y2="555.50" stroke="#222" stroke-width="1.0" />
<line x1="289.30" y1="553.30" x2="289.30" y2="555.50" stroke="#222" stroke-width="1.0" />
<text x="261.70" y="638.05" font-size="6.4" text-anchor="middle" textLength="3.2" lengthAdjust="spacingAndGlyphs" fill="#2a2a2a" stroke="#2a2a2a" stroke-width="0.150" >0</text>
<text x="271.10" y="638.05" font-size="6.4" text-anchor="middle" textLength="3.2" lengthAdjust="spacingAndGlyphs" fill="#2a2a2a" stroke="#2a2a2a" stroke-width="0.150" >1</text>
<text x="280.30" y="638.05" font-size="6.4" text-anchor="middle" textLength="3.2" lengthAdjust="spacingAndGlyphs" fill="#2a2a2a" stroke="#2a2a2a" stroke-width="0.150" >3</text>
<text x="289.80" y="638.05" font-size="6.4" text-anchor="middle" textLength="3.2" lengthAdjust="spacingAndGlyphs" fill="#2a2a2a" stroke="#2a2a2a" stroke-width="0.150" >6</text>
<text x="256.50" y="649.80" font-size="8.0" textLength="37.5" lengthAdjust="spacingAndGlyphs" fill="#2a2a2a" stroke="#2a2a2a" stroke-width="0.150" >NSC12 [μM]</text>
<text transform="translate(236.20,588.00) rotate(-90)" x="0" y="0" font-size="7.4" text-anchor="middle" textLength="93.9" lengthAdjust="spacingAndGlyphs" fill="#2a2a2a" stroke="#2a2a2a" stroke-width="0.150" >MWCL.1 – mitosox pos. cells (%)</text>
<rect x="0.00" y="0.00" width="520.00" height="1.00" fill="#000" />
<rect x="0.00" y="1.00" width="520.00" height="1.00" fill="#d8d8d8" />
<rect x="0.00" y="698.00" width="520.00" height="1.00" fill="#000" />
<rect x="0.00" y="697.00" width="520.00" height="1.00" fill="#909090" />
<rect x="0.00" y="0.00" width="1.00" height="699.00" fill="#000" />
<rect x="1.00" y="1.00" width="1.00" height="697.00" fill="#8a8a8a" />
<rect x="519.00" y="0.00" width="1.00" height="699.00" fill="#000" />
<rect x="518.00" y="1.00" width="1.00" height="697.00" fill="#8a8a8a" />
</svg></body></html>
